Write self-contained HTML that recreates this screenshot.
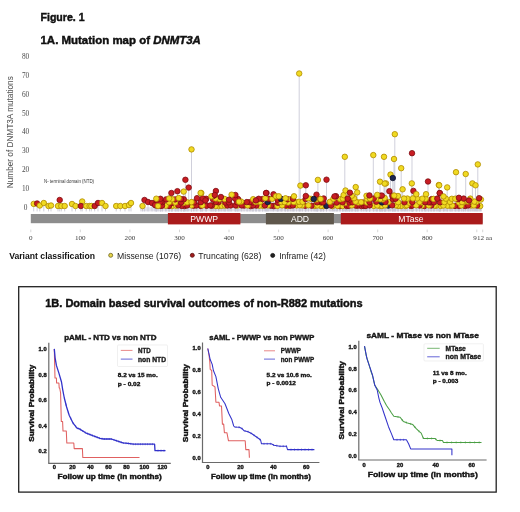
<!DOCTYPE html>
<html><head><meta charset="utf-8"><style>
html,body{margin:0;padding:0;background:#fff;}
svg{display:block;filter:blur(0.35px);}
</style></head><body>
<svg width="520" height="512" viewBox="0 0 520 512">
<defs><filter id="bl" x="-5%" y="-5%" width="110%" height="110%"><feGaussianBlur stdDeviation="0.3"/></filter></defs>
<rect width="520" height="512" fill="#fff"/>
<text x="40.5" y="21.3" font-family='"Liberation Sans", sans-serif' font-size="11.2" font-weight="bold" fill="#111" text-anchor="start" textLength="44" lengthAdjust="spacingAndGlyphs" stroke="#111" stroke-width="0.45">Figure. 1</text>
<text x="40.5" y="44.2" font-family='"Liberation Sans", sans-serif' font-size="11.2" font-weight="bold" fill="#111" stroke="#111" stroke-width="0.45" textLength="160.4" lengthAdjust="spacingAndGlyphs">1A. Mutation map of <tspan font-style="italic">DNMT3A</tspan></text>
<text x="25.6" y="209.8" font-family='"Liberation Serif", serif' font-size="7.3" font-weight="normal" fill="#4a4a4a" text-anchor="middle" >0</text>
<text x="25.6" y="190.95000000000002" font-family='"Liberation Serif", serif' font-size="7.3" font-weight="normal" fill="#4a4a4a" text-anchor="middle" >10</text>
<text x="25.6" y="172.10000000000002" font-family='"Liberation Serif", serif' font-size="7.3" font-weight="normal" fill="#4a4a4a" text-anchor="middle" >20</text>
<text x="25.6" y="153.25" font-family='"Liberation Serif", serif' font-size="7.3" font-weight="normal" fill="#4a4a4a" text-anchor="middle" >30</text>
<text x="25.6" y="134.4" font-family='"Liberation Serif", serif' font-size="7.3" font-weight="normal" fill="#4a4a4a" text-anchor="middle" >40</text>
<text x="25.6" y="115.55000000000001" font-family='"Liberation Serif", serif' font-size="7.3" font-weight="normal" fill="#4a4a4a" text-anchor="middle" >50</text>
<text x="25.6" y="96.70000000000002" font-family='"Liberation Serif", serif' font-size="7.3" font-weight="normal" fill="#4a4a4a" text-anchor="middle" >60</text>
<text x="25.6" y="77.85000000000002" font-family='"Liberation Serif", serif' font-size="7.3" font-weight="normal" fill="#4a4a4a" text-anchor="middle" >70</text>
<text x="25.6" y="59.0" font-family='"Liberation Serif", serif' font-size="7.3" font-weight="normal" fill="#4a4a4a" text-anchor="middle" >80</text>
<text transform="translate(13.0,188.2) rotate(-90)" font-family='"Liberation Sans", sans-serif' font-size="8.2" fill="#555" stroke="#555" stroke-width="0.05" textLength="112" lengthAdjust="spacingAndGlyphs">Number of DNMT3A mutations</text>
<text x="44.0" y="182.6" font-family='"Liberation Sans", sans-serif' font-size="4.9" font-weight="normal" fill="#333" text-anchor="start" textLength="50.0" lengthAdjust="spacingAndGlyphs" >N- terminal domain (NTD)</text>
<g filter="url(#bl)">
<rect x="140" y="207.2" width="342" height="4.2" fill="#e4e2ea"/>
<line x1="339.9" y1="206.1" x2="339.9" y2="211.4" stroke="#c8c8d4" stroke-width="0.85"/>
<line x1="480.2" y1="206.1" x2="480.2" y2="211.4" stroke="#c8c8d4" stroke-width="0.85"/>
<line x1="323.4" y1="206.1" x2="323.4" y2="211.4" stroke="#c8c8d4" stroke-width="0.85"/>
<line x1="250.8" y1="206.1" x2="250.8" y2="211.4" stroke="#c8c8d4" stroke-width="0.85"/>
<line x1="273.9" y1="206.1" x2="273.9" y2="211.4" stroke="#c8c8d4" stroke-width="0.85"/>
<line x1="332.6" y1="206.1" x2="332.6" y2="211.4" stroke="#c8c8d4" stroke-width="0.85"/>
<line x1="361.3" y1="206.1" x2="361.3" y2="211.4" stroke="#c8c8d4" stroke-width="0.85"/>
<line x1="218.6" y1="206.1" x2="218.6" y2="211.4" stroke="#c8c8d4" stroke-width="0.85"/>
<line x1="320.9" y1="206.0" x2="320.9" y2="211.4" stroke="#c8c8d4" stroke-width="0.85"/>
<line x1="424.4" y1="206.0" x2="424.4" y2="211.4" stroke="#c8c8d4" stroke-width="0.85"/>
<line x1="401.1" y1="206.0" x2="401.1" y2="211.4" stroke="#c8c8d4" stroke-width="0.85"/>
<line x1="184.7" y1="206.0" x2="184.7" y2="211.4" stroke="#c8c8d4" stroke-width="0.85"/>
<line x1="379.8" y1="206.0" x2="379.8" y2="211.4" stroke="#c8c8d4" stroke-width="0.85"/>
<line x1="411.0" y1="206.0" x2="411.0" y2="211.4" stroke="#c8c8d4" stroke-width="0.85"/>
<line x1="364.0" y1="206.0" x2="364.0" y2="211.4" stroke="#c8c8d4" stroke-width="0.85"/>
<line x1="342.7" y1="206.0" x2="342.7" y2="211.4" stroke="#c8c8d4" stroke-width="0.85"/>
<line x1="465.1" y1="206.0" x2="465.1" y2="211.4" stroke="#c8c8d4" stroke-width="0.85"/>
<line x1="172.1" y1="206.0" x2="172.1" y2="211.4" stroke="#c8c8d4" stroke-width="0.85"/>
<line x1="381.9" y1="206.0" x2="381.9" y2="211.4" stroke="#c8c8d4" stroke-width="0.85"/>
<line x1="346.8" y1="206.0" x2="346.8" y2="211.4" stroke="#c8c8d4" stroke-width="0.85"/>
<line x1="459.0" y1="206.0" x2="459.0" y2="211.4" stroke="#c8c8d4" stroke-width="0.85"/>
<line x1="455.0" y1="205.9" x2="455.0" y2="211.4" stroke="#c8c8d4" stroke-width="0.85"/>
<line x1="181.7" y1="205.9" x2="181.7" y2="211.4" stroke="#c8c8d4" stroke-width="0.85"/>
<line x1="200.7" y1="205.9" x2="200.7" y2="211.4" stroke="#c8c8d4" stroke-width="0.85"/>
<line x1="440.7" y1="205.9" x2="440.7" y2="211.4" stroke="#c8c8d4" stroke-width="0.85"/>
<line x1="215.6" y1="205.9" x2="215.6" y2="211.4" stroke="#c8c8d4" stroke-width="0.85"/>
<line x1="326.5" y1="205.9" x2="326.5" y2="211.4" stroke="#c8c8d4" stroke-width="0.85"/>
<line x1="169.0" y1="205.9" x2="169.0" y2="211.4" stroke="#c8c8d4" stroke-width="0.85"/>
<line x1="365.7" y1="205.9" x2="365.7" y2="211.4" stroke="#c8c8d4" stroke-width="0.85"/>
<line x1="314.8" y1="205.9" x2="314.8" y2="211.4" stroke="#c8c8d4" stroke-width="0.85"/>
<line x1="337.5" y1="205.9" x2="337.5" y2="211.4" stroke="#c8c8d4" stroke-width="0.85"/>
<line x1="287.4" y1="205.9" x2="287.4" y2="211.4" stroke="#c8c8d4" stroke-width="0.85"/>
<line x1="373.8" y1="205.9" x2="373.8" y2="211.4" stroke="#c8c8d4" stroke-width="0.85"/>
<line x1="398.1" y1="205.9" x2="398.1" y2="211.4" stroke="#c8c8d4" stroke-width="0.85"/>
<line x1="277.4" y1="205.9" x2="277.4" y2="211.4" stroke="#c8c8d4" stroke-width="0.85"/>
<line x1="405.5" y1="205.9" x2="405.5" y2="211.4" stroke="#c8c8d4" stroke-width="0.85"/>
<line x1="221.7" y1="205.8" x2="221.7" y2="211.4" stroke="#c8c8d4" stroke-width="0.85"/>
<line x1="206.6" y1="205.8" x2="206.6" y2="211.4" stroke="#c8c8d4" stroke-width="0.85"/>
<line x1="305.2" y1="205.8" x2="305.2" y2="211.4" stroke="#c8c8d4" stroke-width="0.85"/>
<line x1="450.3" y1="205.8" x2="450.3" y2="211.4" stroke="#c8c8d4" stroke-width="0.85"/>
<line x1="262.7" y1="205.8" x2="262.7" y2="211.4" stroke="#c8c8d4" stroke-width="0.85"/>
<line x1="160.6" y1="205.8" x2="160.6" y2="211.4" stroke="#c8c8d4" stroke-width="0.85"/>
<line x1="357.4" y1="205.8" x2="357.4" y2="211.4" stroke="#c8c8d4" stroke-width="0.85"/>
<line x1="348.8" y1="205.8" x2="348.8" y2="211.4" stroke="#c8c8d4" stroke-width="0.85"/>
<line x1="165.7" y1="205.8" x2="165.7" y2="211.4" stroke="#c8c8d4" stroke-width="0.85"/>
<line x1="290.2" y1="205.7" x2="290.2" y2="211.4" stroke="#c8c8d4" stroke-width="0.85"/>
<line x1="176.2" y1="205.7" x2="176.2" y2="211.4" stroke="#c8c8d4" stroke-width="0.85"/>
<line x1="162.0" y1="205.7" x2="162.0" y2="211.4" stroke="#c8c8d4" stroke-width="0.85"/>
<line x1="259.3" y1="205.7" x2="259.3" y2="211.4" stroke="#c8c8d4" stroke-width="0.85"/>
<line x1="211.8" y1="205.7" x2="211.8" y2="211.4" stroke="#c8c8d4" stroke-width="0.85"/>
<line x1="193.5" y1="205.7" x2="193.5" y2="211.4" stroke="#c8c8d4" stroke-width="0.85"/>
<line x1="311.7" y1="205.7" x2="311.7" y2="211.4" stroke="#c8c8d4" stroke-width="0.85"/>
<line x1="447.4" y1="205.7" x2="447.4" y2="211.4" stroke="#c8c8d4" stroke-width="0.85"/>
<line x1="270.9" y1="205.7" x2="270.9" y2="211.4" stroke="#c8c8d4" stroke-width="0.85"/>
<line x1="436.2" y1="205.7" x2="436.2" y2="211.4" stroke="#c8c8d4" stroke-width="0.85"/>
<line x1="244.1" y1="205.6" x2="244.1" y2="211.4" stroke="#c8c8d4" stroke-width="0.85"/>
<line x1="388.2" y1="205.6" x2="388.2" y2="211.4" stroke="#c8c8d4" stroke-width="0.85"/>
<line x1="256.3" y1="205.6" x2="256.3" y2="211.4" stroke="#c8c8d4" stroke-width="0.85"/>
<line x1="434.5" y1="205.6" x2="434.5" y2="211.4" stroke="#c8c8d4" stroke-width="0.85"/>
<line x1="477.1" y1="205.6" x2="477.1" y2="211.4" stroke="#c8c8d4" stroke-width="0.85"/>
<line x1="224.9" y1="205.6" x2="224.9" y2="211.4" stroke="#c8c8d4" stroke-width="0.85"/>
<line x1="156.4" y1="205.6" x2="156.4" y2="211.4" stroke="#c8c8d4" stroke-width="0.85"/>
<line x1="431.3" y1="205.5" x2="431.3" y2="211.4" stroke="#c8c8d4" stroke-width="0.85"/>
<line x1="285.6" y1="205.5" x2="285.6" y2="211.4" stroke="#c8c8d4" stroke-width="0.85"/>
<line x1="422.0" y1="205.5" x2="422.0" y2="211.4" stroke="#c8c8d4" stroke-width="0.85"/>
<line x1="461.3" y1="205.5" x2="461.3" y2="211.4" stroke="#c8c8d4" stroke-width="0.85"/>
<line x1="377.3" y1="205.5" x2="377.3" y2="211.4" stroke="#c8c8d4" stroke-width="0.85"/>
<line x1="452.2" y1="205.5" x2="452.2" y2="211.4" stroke="#c8c8d4" stroke-width="0.85"/>
<line x1="331.1" y1="205.5" x2="331.1" y2="211.4" stroke="#c8c8d4" stroke-width="0.85"/>
<line x1="227.4" y1="205.5" x2="227.4" y2="211.4" stroke="#c8c8d4" stroke-width="0.85"/>
<line x1="443.4" y1="205.5" x2="443.4" y2="211.4" stroke="#c8c8d4" stroke-width="0.85"/>
<line x1="317.4" y1="205.5" x2="317.4" y2="211.4" stroke="#c8c8d4" stroke-width="0.85"/>
<line x1="196.2" y1="205.5" x2="196.2" y2="211.4" stroke="#c8c8d4" stroke-width="0.85"/>
<line x1="419.5" y1="205.5" x2="419.5" y2="211.4" stroke="#c8c8d4" stroke-width="0.85"/>
<line x1="237.3" y1="205.5" x2="237.3" y2="211.4" stroke="#c8c8d4" stroke-width="0.85"/>
<line x1="253.1" y1="205.5" x2="253.1" y2="211.4" stroke="#c8c8d4" stroke-width="0.85"/>
<line x1="471.1" y1="205.5" x2="471.1" y2="211.4" stroke="#c8c8d4" stroke-width="0.85"/>
<line x1="355.4" y1="205.5" x2="355.4" y2="211.4" stroke="#c8c8d4" stroke-width="0.85"/>
<line x1="369.6" y1="205.4" x2="369.6" y2="211.4" stroke="#c8c8d4" stroke-width="0.85"/>
<line x1="191.4" y1="205.4" x2="191.4" y2="211.4" stroke="#c8c8d4" stroke-width="0.85"/>
<line x1="187.1" y1="205.4" x2="187.1" y2="211.4" stroke="#c8c8d4" stroke-width="0.85"/>
<line x1="428.8" y1="205.4" x2="428.8" y2="211.4" stroke="#c8c8d4" stroke-width="0.85"/>
<line x1="302.1" y1="205.4" x2="302.1" y2="211.4" stroke="#c8c8d4" stroke-width="0.85"/>
<line x1="468.1" y1="205.4" x2="468.1" y2="211.4" stroke="#c8c8d4" stroke-width="0.85"/>
<line x1="473.8" y1="205.4" x2="473.8" y2="211.4" stroke="#c8c8d4" stroke-width="0.85"/>
<line x1="210.3" y1="205.4" x2="210.3" y2="211.4" stroke="#c8c8d4" stroke-width="0.85"/>
<line x1="202.4" y1="205.4" x2="202.4" y2="211.4" stroke="#c8c8d4" stroke-width="0.85"/>
<line x1="296.7" y1="205.4" x2="296.7" y2="211.4" stroke="#c8c8d4" stroke-width="0.85"/>
<line x1="282.1" y1="205.4" x2="282.1" y2="211.4" stroke="#c8c8d4" stroke-width="0.85"/>
<line x1="385.0" y1="205.4" x2="385.0" y2="211.4" stroke="#c8c8d4" stroke-width="0.85"/>
<line x1="241.7" y1="205.4" x2="241.7" y2="211.4" stroke="#c8c8d4" stroke-width="0.85"/>
<line x1="351.8" y1="205.4" x2="351.8" y2="211.4" stroke="#c8c8d4" stroke-width="0.85"/>
<line x1="412.5" y1="205.4" x2="412.5" y2="211.4" stroke="#c8c8d4" stroke-width="0.85"/>
<line x1="292.9" y1="205.4" x2="292.9" y2="211.4" stroke="#c8c8d4" stroke-width="0.85"/>
<line x1="230.7" y1="205.4" x2="230.7" y2="211.4" stroke="#c8c8d4" stroke-width="0.85"/>
<line x1="247.7" y1="205.4" x2="247.7" y2="211.4" stroke="#c8c8d4" stroke-width="0.85"/>
<line x1="267.9" y1="205.4" x2="267.9" y2="211.4" stroke="#c8c8d4" stroke-width="0.85"/>
<line x1="264.9" y1="205.4" x2="264.9" y2="211.4" stroke="#c8c8d4" stroke-width="0.85"/>
<line x1="235.6" y1="205.4" x2="235.6" y2="211.4" stroke="#c8c8d4" stroke-width="0.85"/>
<line x1="395.8" y1="205.3" x2="395.8" y2="211.4" stroke="#c8c8d4" stroke-width="0.85"/>
<line x1="392.2" y1="205.3" x2="392.2" y2="211.4" stroke="#c8c8d4" stroke-width="0.85"/>
<line x1="299.7" y1="205.3" x2="299.7" y2="211.4" stroke="#c8c8d4" stroke-width="0.85"/>
<line x1="416.2" y1="205.3" x2="416.2" y2="211.4" stroke="#c8c8d4" stroke-width="0.85"/>
<line x1="406.8" y1="205.3" x2="406.8" y2="211.4" stroke="#c8c8d4" stroke-width="0.85"/>
<line x1="308.4" y1="205.3" x2="308.4" y2="211.4" stroke="#c8c8d4" stroke-width="0.85"/>
<line x1="178.3" y1="205.3" x2="178.3" y2="211.4" stroke="#c8c8d4" stroke-width="0.85"/>
<line x1="171.9" y1="202.9" x2="171.9" y2="211.4" stroke="#c8c8d4" stroke-width="0.85"/>
<line x1="277.9" y1="202.8" x2="277.9" y2="211.4" stroke="#c8c8d4" stroke-width="0.85"/>
<line x1="409.4" y1="202.8" x2="409.4" y2="211.4" stroke="#c8c8d4" stroke-width="0.85"/>
<line x1="345.6" y1="202.7" x2="345.6" y2="211.4" stroke="#c8c8d4" stroke-width="0.85"/>
<line x1="183.8" y1="202.7" x2="183.8" y2="211.4" stroke="#c8c8d4" stroke-width="0.85"/>
<line x1="288.2" y1="202.6" x2="288.2" y2="211.4" stroke="#c8c8d4" stroke-width="0.85"/>
<line x1="363.2" y1="202.6" x2="363.2" y2="211.4" stroke="#c8c8d4" stroke-width="0.85"/>
<line x1="349.5" y1="202.6" x2="349.5" y2="211.4" stroke="#c8c8d4" stroke-width="0.85"/>
<line x1="336.6" y1="202.6" x2="336.6" y2="211.4" stroke="#c8c8d4" stroke-width="0.85"/>
<line x1="225.4" y1="202.6" x2="225.4" y2="211.4" stroke="#c8c8d4" stroke-width="0.85"/>
<line x1="358.4" y1="202.5" x2="358.4" y2="211.4" stroke="#c8c8d4" stroke-width="0.85"/>
<line x1="175.3" y1="202.5" x2="175.3" y2="211.4" stroke="#c8c8d4" stroke-width="0.85"/>
<line x1="194.1" y1="202.5" x2="194.1" y2="211.4" stroke="#c8c8d4" stroke-width="0.85"/>
<line x1="459.0" y1="202.5" x2="459.0" y2="211.4" stroke="#c8c8d4" stroke-width="0.85"/>
<line x1="382.0" y1="202.4" x2="382.0" y2="211.4" stroke="#c8c8d4" stroke-width="0.85"/>
<line x1="421.8" y1="202.4" x2="421.8" y2="211.4" stroke="#c8c8d4" stroke-width="0.85"/>
<line x1="430.6" y1="202.4" x2="430.6" y2="211.4" stroke="#c8c8d4" stroke-width="0.85"/>
<line x1="228.9" y1="202.4" x2="228.9" y2="211.4" stroke="#c8c8d4" stroke-width="0.85"/>
<line x1="252.3" y1="202.4" x2="252.3" y2="211.4" stroke="#c8c8d4" stroke-width="0.85"/>
<line x1="321.5" y1="202.4" x2="321.5" y2="211.4" stroke="#c8c8d4" stroke-width="0.85"/>
<line x1="181.1" y1="202.4" x2="181.1" y2="211.4" stroke="#c8c8d4" stroke-width="0.85"/>
<line x1="366.8" y1="202.4" x2="366.8" y2="211.4" stroke="#c8c8d4" stroke-width="0.85"/>
<line x1="317.1" y1="202.3" x2="317.1" y2="211.4" stroke="#c8c8d4" stroke-width="0.85"/>
<line x1="404.4" y1="202.3" x2="404.4" y2="211.4" stroke="#c8c8d4" stroke-width="0.85"/>
<line x1="440.0" y1="202.3" x2="440.0" y2="211.4" stroke="#c8c8d4" stroke-width="0.85"/>
<line x1="323.1" y1="202.3" x2="323.1" y2="211.4" stroke="#c8c8d4" stroke-width="0.85"/>
<line x1="342.6" y1="202.3" x2="342.6" y2="211.4" stroke="#c8c8d4" stroke-width="0.85"/>
<line x1="352.4" y1="202.3" x2="352.4" y2="211.4" stroke="#c8c8d4" stroke-width="0.85"/>
<line x1="218.4" y1="202.3" x2="218.4" y2="211.4" stroke="#c8c8d4" stroke-width="0.85"/>
<line x1="187.1" y1="202.3" x2="187.1" y2="211.4" stroke="#c8c8d4" stroke-width="0.85"/>
<line x1="169.1" y1="202.3" x2="169.1" y2="211.4" stroke="#c8c8d4" stroke-width="0.85"/>
<line x1="428.6" y1="202.3" x2="428.6" y2="211.4" stroke="#c8c8d4" stroke-width="0.85"/>
<line x1="361.1" y1="202.2" x2="361.1" y2="211.4" stroke="#c8c8d4" stroke-width="0.85"/>
<line x1="433.9" y1="202.2" x2="433.9" y2="211.4" stroke="#c8c8d4" stroke-width="0.85"/>
<line x1="200.8" y1="202.2" x2="200.8" y2="211.4" stroke="#c8c8d4" stroke-width="0.85"/>
<line x1="463.5" y1="202.2" x2="463.5" y2="211.4" stroke="#c8c8d4" stroke-width="0.85"/>
<line x1="296.3" y1="202.2" x2="296.3" y2="211.4" stroke="#c8c8d4" stroke-width="0.85"/>
<line x1="237.0" y1="202.2" x2="237.0" y2="211.4" stroke="#c8c8d4" stroke-width="0.85"/>
<line x1="249.7" y1="202.2" x2="249.7" y2="211.4" stroke="#c8c8d4" stroke-width="0.85"/>
<line x1="425.0" y1="202.2" x2="425.0" y2="211.4" stroke="#c8c8d4" stroke-width="0.85"/>
<line x1="398.1" y1="202.2" x2="398.1" y2="211.4" stroke="#c8c8d4" stroke-width="0.85"/>
<line x1="293.8" y1="202.1" x2="293.8" y2="211.4" stroke="#c8c8d4" stroke-width="0.85"/>
<line x1="462.0" y1="202.1" x2="462.0" y2="211.4" stroke="#c8c8d4" stroke-width="0.85"/>
<line x1="191.5" y1="202.1" x2="191.5" y2="211.4" stroke="#c8c8d4" stroke-width="0.85"/>
<line x1="281.2" y1="202.1" x2="281.2" y2="211.4" stroke="#c8c8d4" stroke-width="0.85"/>
<line x1="444.4" y1="202.1" x2="444.4" y2="211.4" stroke="#c8c8d4" stroke-width="0.85"/>
<line x1="162.5" y1="202.1" x2="162.5" y2="211.4" stroke="#c8c8d4" stroke-width="0.85"/>
<line x1="246.8" y1="202.1" x2="246.8" y2="211.4" stroke="#c8c8d4" stroke-width="0.85"/>
<line x1="215.8" y1="202.1" x2="215.8" y2="211.4" stroke="#c8c8d4" stroke-width="0.85"/>
<line x1="412.3" y1="202.1" x2="412.3" y2="211.4" stroke="#c8c8d4" stroke-width="0.85"/>
<line x1="267.7" y1="202.1" x2="267.7" y2="211.4" stroke="#c8c8d4" stroke-width="0.85"/>
<line x1="156.2" y1="202.1" x2="156.2" y2="211.4" stroke="#c8c8d4" stroke-width="0.85"/>
<line x1="284.6" y1="202.1" x2="284.6" y2="211.4" stroke="#c8c8d4" stroke-width="0.85"/>
<line x1="369.5" y1="202.1" x2="369.5" y2="211.4" stroke="#c8c8d4" stroke-width="0.85"/>
<line x1="388.4" y1="202.0" x2="388.4" y2="211.4" stroke="#c8c8d4" stroke-width="0.85"/>
<line x1="476.4" y1="202.0" x2="476.4" y2="211.4" stroke="#c8c8d4" stroke-width="0.85"/>
<line x1="419.5" y1="202.0" x2="419.5" y2="211.4" stroke="#c8c8d4" stroke-width="0.85"/>
<line x1="260.0" y1="202.0" x2="260.0" y2="211.4" stroke="#c8c8d4" stroke-width="0.85"/>
<line x1="255.8" y1="202.0" x2="255.8" y2="211.4" stroke="#c8c8d4" stroke-width="0.85"/>
<line x1="450.0" y1="202.0" x2="450.0" y2="211.4" stroke="#c8c8d4" stroke-width="0.85"/>
<line x1="160.5" y1="201.9" x2="160.5" y2="211.4" stroke="#c8c8d4" stroke-width="0.85"/>
<line x1="329.8" y1="201.9" x2="329.8" y2="211.4" stroke="#c8c8d4" stroke-width="0.85"/>
<line x1="385.5" y1="201.9" x2="385.5" y2="211.4" stroke="#c8c8d4" stroke-width="0.85"/>
<line x1="299.1" y1="201.8" x2="299.1" y2="211.4" stroke="#c8c8d4" stroke-width="0.85"/>
<line x1="302.5" y1="201.8" x2="302.5" y2="211.4" stroke="#c8c8d4" stroke-width="0.85"/>
<line x1="376.3" y1="201.7" x2="376.3" y2="211.4" stroke="#c8c8d4" stroke-width="0.85"/>
<line x1="355.6" y1="201.6" x2="355.6" y2="211.4" stroke="#c8c8d4" stroke-width="0.85"/>
<line x1="474.4" y1="201.6" x2="474.4" y2="211.4" stroke="#c8c8d4" stroke-width="0.85"/>
<line x1="241.1" y1="201.6" x2="241.1" y2="211.4" stroke="#c8c8d4" stroke-width="0.85"/>
<line x1="467.8" y1="201.6" x2="467.8" y2="211.4" stroke="#c8c8d4" stroke-width="0.85"/>
<line x1="277.6" y1="199.7" x2="277.6" y2="211.4" stroke="#c8c8d4" stroke-width="0.85"/>
<line x1="349.7" y1="199.6" x2="349.7" y2="211.4" stroke="#c8c8d4" stroke-width="0.85"/>
<line x1="213.1" y1="199.6" x2="213.1" y2="211.4" stroke="#c8c8d4" stroke-width="0.85"/>
<line x1="480.9" y1="199.5" x2="480.9" y2="211.4" stroke="#c8c8d4" stroke-width="0.85"/>
<line x1="315.3" y1="199.4" x2="315.3" y2="211.4" stroke="#c8c8d4" stroke-width="0.85"/>
<line x1="382.5" y1="199.4" x2="382.5" y2="211.4" stroke="#c8c8d4" stroke-width="0.85"/>
<line x1="166.1" y1="199.4" x2="166.1" y2="211.4" stroke="#c8c8d4" stroke-width="0.85"/>
<line x1="175.1" y1="199.4" x2="175.1" y2="211.4" stroke="#c8c8d4" stroke-width="0.85"/>
<line x1="380.2" y1="199.3" x2="380.2" y2="211.4" stroke="#c8c8d4" stroke-width="0.85"/>
<line x1="287.9" y1="199.3" x2="287.9" y2="211.4" stroke="#c8c8d4" stroke-width="0.85"/>
<line x1="317.4" y1="199.3" x2="317.4" y2="211.4" stroke="#c8c8d4" stroke-width="0.85"/>
<line x1="223.3" y1="199.3" x2="223.3" y2="211.4" stroke="#c8c8d4" stroke-width="0.85"/>
<line x1="393.0" y1="199.3" x2="393.0" y2="211.4" stroke="#c8c8d4" stroke-width="0.85"/>
<line x1="183.8" y1="199.3" x2="183.8" y2="211.4" stroke="#c8c8d4" stroke-width="0.85"/>
<line x1="172.0" y1="199.2" x2="172.0" y2="211.4" stroke="#c8c8d4" stroke-width="0.85"/>
<line x1="340.2" y1="199.2" x2="340.2" y2="211.4" stroke="#c8c8d4" stroke-width="0.85"/>
<line x1="458.0" y1="199.2" x2="458.0" y2="211.4" stroke="#c8c8d4" stroke-width="0.85"/>
<line x1="253.2" y1="199.2" x2="253.2" y2="211.4" stroke="#c8c8d4" stroke-width="0.85"/>
<line x1="305.6" y1="199.1" x2="305.6" y2="211.4" stroke="#c8c8d4" stroke-width="0.85"/>
<line x1="262.5" y1="199.1" x2="262.5" y2="211.4" stroke="#c8c8d4" stroke-width="0.85"/>
<line x1="291.1" y1="199.1" x2="291.1" y2="211.4" stroke="#c8c8d4" stroke-width="0.85"/>
<line x1="431.8" y1="199.1" x2="431.8" y2="211.4" stroke="#c8c8d4" stroke-width="0.85"/>
<line x1="219.4" y1="199.1" x2="219.4" y2="211.4" stroke="#c8c8d4" stroke-width="0.85"/>
<line x1="320.3" y1="199.1" x2="320.3" y2="211.4" stroke="#c8c8d4" stroke-width="0.85"/>
<line x1="181.0" y1="199.1" x2="181.0" y2="211.4" stroke="#c8c8d4" stroke-width="0.85"/>
<line x1="224.7" y1="199.0" x2="224.7" y2="211.4" stroke="#c8c8d4" stroke-width="0.85"/>
<line x1="238.0" y1="199.0" x2="238.0" y2="211.4" stroke="#c8c8d4" stroke-width="0.85"/>
<line x1="311.1" y1="198.9" x2="311.1" y2="211.4" stroke="#c8c8d4" stroke-width="0.85"/>
<line x1="433.5" y1="198.9" x2="433.5" y2="211.4" stroke="#c8c8d4" stroke-width="0.85"/>
<line x1="346.8" y1="198.9" x2="346.8" y2="211.4" stroke="#c8c8d4" stroke-width="0.85"/>
<line x1="268.9" y1="198.8" x2="268.9" y2="211.4" stroke="#c8c8d4" stroke-width="0.85"/>
<line x1="333.4" y1="198.8" x2="333.4" y2="211.4" stroke="#c8c8d4" stroke-width="0.85"/>
<line x1="206.2" y1="198.8" x2="206.2" y2="211.4" stroke="#c8c8d4" stroke-width="0.85"/>
<line x1="366.9" y1="198.8" x2="366.9" y2="211.4" stroke="#c8c8d4" stroke-width="0.85"/>
<line x1="451.8" y1="198.8" x2="451.8" y2="211.4" stroke="#c8c8d4" stroke-width="0.85"/>
<line x1="160.4" y1="198.8" x2="160.4" y2="211.4" stroke="#c8c8d4" stroke-width="0.85"/>
<line x1="281.0" y1="198.8" x2="281.0" y2="211.4" stroke="#c8c8d4" stroke-width="0.85"/>
<line x1="425.7" y1="198.8" x2="425.7" y2="211.4" stroke="#c8c8d4" stroke-width="0.85"/>
<line x1="272.2" y1="198.8" x2="272.2" y2="211.4" stroke="#c8c8d4" stroke-width="0.85"/>
<line x1="258.7" y1="198.8" x2="258.7" y2="211.4" stroke="#c8c8d4" stroke-width="0.85"/>
<line x1="292.9" y1="198.8" x2="292.9" y2="211.4" stroke="#c8c8d4" stroke-width="0.85"/>
<line x1="422.3" y1="198.7" x2="422.3" y2="211.4" stroke="#c8c8d4" stroke-width="0.85"/>
<line x1="445.9" y1="198.7" x2="445.9" y2="211.4" stroke="#c8c8d4" stroke-width="0.85"/>
<line x1="156.3" y1="198.7" x2="156.3" y2="211.4" stroke="#c8c8d4" stroke-width="0.85"/>
<line x1="455.3" y1="198.7" x2="455.3" y2="211.4" stroke="#c8c8d4" stroke-width="0.85"/>
<line x1="395.5" y1="198.7" x2="395.5" y2="211.4" stroke="#c8c8d4" stroke-width="0.85"/>
<line x1="376.1" y1="198.7" x2="376.1" y2="211.4" stroke="#c8c8d4" stroke-width="0.85"/>
<line x1="407.4" y1="198.6" x2="407.4" y2="211.4" stroke="#c8c8d4" stroke-width="0.85"/>
<line x1="463.7" y1="198.6" x2="463.7" y2="211.4" stroke="#c8c8d4" stroke-width="0.85"/>
<line x1="373.7" y1="198.6" x2="373.7" y2="211.4" stroke="#c8c8d4" stroke-width="0.85"/>
<line x1="437.3" y1="198.6" x2="437.3" y2="211.4" stroke="#c8c8d4" stroke-width="0.85"/>
<line x1="235.0" y1="198.6" x2="235.0" y2="211.4" stroke="#c8c8d4" stroke-width="0.85"/>
<line x1="470.3" y1="198.6" x2="470.3" y2="211.4" stroke="#c8c8d4" stroke-width="0.85"/>
<line x1="417.0" y1="198.5" x2="417.0" y2="211.4" stroke="#c8c8d4" stroke-width="0.85"/>
<line x1="404.0" y1="198.5" x2="404.0" y2="211.4" stroke="#c8c8d4" stroke-width="0.85"/>
<line x1="342.8" y1="198.5" x2="342.8" y2="211.4" stroke="#c8c8d4" stroke-width="0.85"/>
<line x1="323.7" y1="198.5" x2="323.7" y2="211.4" stroke="#c8c8d4" stroke-width="0.85"/>
<line x1="370.0" y1="198.5" x2="370.0" y2="211.4" stroke="#c8c8d4" stroke-width="0.85"/>
<line x1="215.6" y1="198.5" x2="215.6" y2="211.4" stroke="#c8c8d4" stroke-width="0.85"/>
<line x1="412.9" y1="198.4" x2="412.9" y2="211.4" stroke="#c8c8d4" stroke-width="0.85"/>
<line x1="169.2" y1="198.4" x2="169.2" y2="211.4" stroke="#c8c8d4" stroke-width="0.85"/>
<line x1="202.7" y1="198.4" x2="202.7" y2="211.4" stroke="#c8c8d4" stroke-width="0.85"/>
<line x1="285.5" y1="198.3" x2="285.5" y2="211.4" stroke="#c8c8d4" stroke-width="0.85"/>
<line x1="308.3" y1="198.3" x2="308.3" y2="211.4" stroke="#c8c8d4" stroke-width="0.85"/>
<line x1="265.3" y1="198.2" x2="265.3" y2="211.4" stroke="#c8c8d4" stroke-width="0.85"/>
<line x1="354.1" y1="198.2" x2="354.1" y2="211.4" stroke="#c8c8d4" stroke-width="0.85"/>
<line x1="197.0" y1="198.2" x2="197.0" y2="211.4" stroke="#c8c8d4" stroke-width="0.85"/>
<line x1="384.7" y1="198.0" x2="384.7" y2="211.4" stroke="#c8c8d4" stroke-width="0.85"/>
<line x1="178.7" y1="198.0" x2="178.7" y2="211.4" stroke="#c8c8d4" stroke-width="0.85"/>
<line x1="336.0" y1="196.2" x2="336.0" y2="211.4" stroke="#c8c8d4" stroke-width="0.85"/>
<line x1="213.2" y1="196.1" x2="213.2" y2="211.4" stroke="#c8c8d4" stroke-width="0.85"/>
<line x1="398.0" y1="196.0" x2="398.0" y2="211.4" stroke="#c8c8d4" stroke-width="0.85"/>
<line x1="366.5" y1="195.8" x2="366.5" y2="211.4" stroke="#c8c8d4" stroke-width="0.85"/>
<line x1="380.2" y1="195.8" x2="380.2" y2="211.4" stroke="#c8c8d4" stroke-width="0.85"/>
<line x1="351.8" y1="195.7" x2="351.8" y2="211.4" stroke="#c8c8d4" stroke-width="0.85"/>
<line x1="392.4" y1="195.7" x2="392.4" y2="211.4" stroke="#c8c8d4" stroke-width="0.85"/>
<line x1="381.8" y1="195.6" x2="381.8" y2="211.4" stroke="#c8c8d4" stroke-width="0.85"/>
<line x1="394.2" y1="195.6" x2="394.2" y2="211.4" stroke="#c8c8d4" stroke-width="0.85"/>
<line x1="369.4" y1="195.4" x2="369.4" y2="211.4" stroke="#c8c8d4" stroke-width="0.85"/>
<line x1="343.6" y1="195.1" x2="343.6" y2="211.4" stroke="#c8c8d4" stroke-width="0.85"/>
<line x1="377.2" y1="194.9" x2="377.2" y2="211.4" stroke="#c8c8d4" stroke-width="0.85"/>
<line x1="33.7" y1="203.9" x2="33.7" y2="211.4" stroke="#c8c8d4" stroke-width="0.85"/>
<line x1="37.1" y1="203.5" x2="37.1" y2="211.4" stroke="#c8c8d4" stroke-width="0.85"/>
<line x1="39.8" y1="205.5" x2="39.8" y2="211.4" stroke="#c8c8d4" stroke-width="0.85"/>
<line x1="43.8" y1="203.0" x2="43.8" y2="211.4" stroke="#c8c8d4" stroke-width="0.85"/>
<line x1="48.5" y1="206.0" x2="48.5" y2="211.4" stroke="#c8c8d4" stroke-width="0.85"/>
<line x1="51.0" y1="205.5" x2="51.0" y2="211.4" stroke="#c8c8d4" stroke-width="0.85"/>
<line x1="59.7" y1="200.0" x2="59.7" y2="211.4" stroke="#c8c8d4" stroke-width="0.85"/>
<line x1="58.0" y1="206.0" x2="58.0" y2="211.4" stroke="#c8c8d4" stroke-width="0.85"/>
<line x1="61.3" y1="206.0" x2="61.3" y2="211.4" stroke="#c8c8d4" stroke-width="0.85"/>
<line x1="64.7" y1="206.0" x2="64.7" y2="211.4" stroke="#c8c8d4" stroke-width="0.85"/>
<line x1="72.0" y1="204.0" x2="72.0" y2="211.4" stroke="#c8c8d4" stroke-width="0.85"/>
<line x1="75.5" y1="206.0" x2="75.5" y2="211.4" stroke="#c8c8d4" stroke-width="0.85"/>
<line x1="82.2" y1="201.5" x2="82.2" y2="211.4" stroke="#c8c8d4" stroke-width="0.85"/>
<line x1="80.9" y1="206.0" x2="80.9" y2="211.4" stroke="#c8c8d4" stroke-width="0.85"/>
<line x1="86.2" y1="206.0" x2="86.2" y2="211.4" stroke="#c8c8d4" stroke-width="0.85"/>
<line x1="89.6" y1="206.0" x2="89.6" y2="211.4" stroke="#c8c8d4" stroke-width="0.85"/>
<line x1="91.3" y1="206.0" x2="91.3" y2="211.4" stroke="#c8c8d4" stroke-width="0.85"/>
<line x1="94.7" y1="206.0" x2="94.7" y2="211.4" stroke="#c8c8d4" stroke-width="0.85"/>
<line x1="98.0" y1="203.0" x2="98.0" y2="211.4" stroke="#c8c8d4" stroke-width="0.85"/>
<line x1="102.0" y1="203.0" x2="102.0" y2="211.4" stroke="#c8c8d4" stroke-width="0.85"/>
<line x1="105.5" y1="206.0" x2="105.5" y2="211.4" stroke="#c8c8d4" stroke-width="0.85"/>
<line x1="116.2" y1="206.0" x2="116.2" y2="211.4" stroke="#c8c8d4" stroke-width="0.85"/>
<line x1="120.3" y1="206.0" x2="120.3" y2="211.4" stroke="#c8c8d4" stroke-width="0.85"/>
<line x1="125.0" y1="206.0" x2="125.0" y2="211.4" stroke="#c8c8d4" stroke-width="0.85"/>
<line x1="129.0" y1="205.0" x2="129.0" y2="211.4" stroke="#c8c8d4" stroke-width="0.85"/>
<line x1="131.0" y1="203.0" x2="131.0" y2="211.4" stroke="#c8c8d4" stroke-width="0.85"/>
<line x1="142.5" y1="206.0" x2="142.5" y2="211.4" stroke="#c8c8d4" stroke-width="0.85"/>
<line x1="144.5" y1="200.0" x2="144.5" y2="211.4" stroke="#c8c8d4" stroke-width="0.85"/>
<line x1="148.0" y1="202.0" x2="148.0" y2="211.4" stroke="#c8c8d4" stroke-width="0.85"/>
<line x1="152.0" y1="203.0" x2="152.0" y2="211.4" stroke="#c8c8d4" stroke-width="0.85"/>
<line x1="155.0" y1="205.0" x2="155.0" y2="211.4" stroke="#c8c8d4" stroke-width="0.85"/>
<line x1="158.0" y1="206.0" x2="158.0" y2="211.4" stroke="#c8c8d4" stroke-width="0.85"/>
<line x1="191.5" y1="149.4" x2="191.5" y2="211.4" stroke="#c8c8d4" stroke-width="0.85"/>
<line x1="299.2" y1="73.5" x2="299.2" y2="211.4" stroke="#c8c8d4" stroke-width="0.85"/>
<line x1="185.4" y1="179.8" x2="185.4" y2="211.4" stroke="#c8c8d4" stroke-width="0.85"/>
<line x1="188.7" y1="187.6" x2="188.7" y2="211.4" stroke="#c8c8d4" stroke-width="0.85"/>
<line x1="300.4" y1="185.6" x2="300.4" y2="211.4" stroke="#c8c8d4" stroke-width="0.85"/>
<line x1="305.8" y1="185.3" x2="305.8" y2="211.4" stroke="#c8c8d4" stroke-width="0.85"/>
<line x1="317.9" y1="179.9" x2="317.9" y2="211.4" stroke="#c8c8d4" stroke-width="0.85"/>
<line x1="326.5" y1="179.7" x2="326.5" y2="211.4" stroke="#c8c8d4" stroke-width="0.85"/>
<line x1="344.8" y1="156.8" x2="344.8" y2="211.4" stroke="#c8c8d4" stroke-width="0.85"/>
<line x1="373.3" y1="155.1" x2="373.3" y2="211.4" stroke="#c8c8d4" stroke-width="0.85"/>
<line x1="384.0" y1="156.8" x2="384.0" y2="211.4" stroke="#c8c8d4" stroke-width="0.85"/>
<line x1="394.0" y1="159.0" x2="394.0" y2="211.4" stroke="#c8c8d4" stroke-width="0.85"/>
<line x1="394.8" y1="134.2" x2="394.8" y2="211.4" stroke="#c8c8d4" stroke-width="0.85"/>
<line x1="412.0" y1="153.2" x2="412.0" y2="211.4" stroke="#c8c8d4" stroke-width="0.85"/>
<line x1="401.2" y1="168.2" x2="401.2" y2="211.4" stroke="#c8c8d4" stroke-width="0.85"/>
<line x1="390.5" y1="174.6" x2="390.5" y2="211.4" stroke="#c8c8d4" stroke-width="0.85"/>
<line x1="392.8" y1="178.0" x2="392.8" y2="211.4" stroke="#c8c8d4" stroke-width="0.85"/>
<line x1="386.0" y1="183.4" x2="386.0" y2="211.4" stroke="#c8c8d4" stroke-width="0.85"/>
<line x1="380.0" y1="181.7" x2="380.0" y2="211.4" stroke="#c8c8d4" stroke-width="0.85"/>
<line x1="384.7" y1="183.6" x2="384.7" y2="211.4" stroke="#c8c8d4" stroke-width="0.85"/>
<line x1="411.8" y1="183.4" x2="411.8" y2="211.4" stroke="#c8c8d4" stroke-width="0.85"/>
<line x1="428.0" y1="181.5" x2="428.0" y2="211.4" stroke="#c8c8d4" stroke-width="0.85"/>
<line x1="438.8" y1="185.0" x2="438.8" y2="211.4" stroke="#c8c8d4" stroke-width="0.85"/>
<line x1="447.2" y1="187.4" x2="447.2" y2="211.4" stroke="#c8c8d4" stroke-width="0.85"/>
<line x1="477.8" y1="164.4" x2="477.8" y2="211.4" stroke="#c8c8d4" stroke-width="0.85"/>
<line x1="456.0" y1="172.2" x2="456.0" y2="211.4" stroke="#c8c8d4" stroke-width="0.85"/>
<line x1="465.7" y1="174.0" x2="465.7" y2="211.4" stroke="#c8c8d4" stroke-width="0.85"/>
<line x1="439.2" y1="185.3" x2="439.2" y2="211.4" stroke="#c8c8d4" stroke-width="0.85"/>
<line x1="472.4" y1="183.4" x2="472.4" y2="211.4" stroke="#c8c8d4" stroke-width="0.85"/>
<line x1="475.5" y1="185.3" x2="475.5" y2="211.4" stroke="#c8c8d4" stroke-width="0.85"/>
<line x1="355.7" y1="187.1" x2="355.7" y2="211.4" stroke="#c8c8d4" stroke-width="0.85"/>
<line x1="345.5" y1="190.5" x2="345.5" y2="211.4" stroke="#c8c8d4" stroke-width="0.85"/>
<line x1="349.9" y1="192.7" x2="349.9" y2="211.4" stroke="#c8c8d4" stroke-width="0.85"/>
<line x1="357.2" y1="192.4" x2="357.2" y2="211.4" stroke="#c8c8d4" stroke-width="0.85"/>
<line x1="389.4" y1="191.2" x2="389.4" y2="211.4" stroke="#c8c8d4" stroke-width="0.85"/>
<line x1="334.5" y1="196.4" x2="334.5" y2="211.4" stroke="#c8c8d4" stroke-width="0.85"/>
<line x1="347.7" y1="198.6" x2="347.7" y2="211.4" stroke="#c8c8d4" stroke-width="0.85"/>
<line x1="402.6" y1="189.3" x2="402.6" y2="211.4" stroke="#c8c8d4" stroke-width="0.85"/>
<line x1="413.4" y1="190.9" x2="413.4" y2="211.4" stroke="#c8c8d4" stroke-width="0.85"/>
<line x1="439.8" y1="193.2" x2="439.8" y2="211.4" stroke="#c8c8d4" stroke-width="0.85"/>
<line x1="416.3" y1="194.2" x2="416.3" y2="211.4" stroke="#c8c8d4" stroke-width="0.85"/>
<line x1="426.0" y1="194.2" x2="426.0" y2="211.4" stroke="#c8c8d4" stroke-width="0.85"/>
<line x1="439.7" y1="193.0" x2="439.7" y2="211.4" stroke="#c8c8d4" stroke-width="0.85"/>
<line x1="443.5" y1="196.4" x2="443.5" y2="211.4" stroke="#c8c8d4" stroke-width="0.85"/>
<line x1="458.9" y1="197.8" x2="458.9" y2="211.4" stroke="#c8c8d4" stroke-width="0.85"/>
<line x1="469.0" y1="200.5" x2="469.0" y2="211.4" stroke="#c8c8d4" stroke-width="0.85"/>
<line x1="479.1" y1="198.2" x2="479.1" y2="211.4" stroke="#c8c8d4" stroke-width="0.85"/>
<line x1="266.5" y1="193.0" x2="266.5" y2="211.4" stroke="#c8c8d4" stroke-width="0.85"/>
<line x1="273.5" y1="194.3" x2="273.5" y2="211.4" stroke="#c8c8d4" stroke-width="0.85"/>
<line x1="276.0" y1="196.3" x2="276.0" y2="211.4" stroke="#c8c8d4" stroke-width="0.85"/>
<line x1="278.8" y1="196.3" x2="278.8" y2="211.4" stroke="#c8c8d4" stroke-width="0.85"/>
<line x1="294.0" y1="196.3" x2="294.0" y2="211.4" stroke="#c8c8d4" stroke-width="0.85"/>
<line x1="305.8" y1="196.0" x2="305.8" y2="211.4" stroke="#c8c8d4" stroke-width="0.85"/>
<line x1="316.5" y1="194.7" x2="316.5" y2="211.4" stroke="#c8c8d4" stroke-width="0.85"/>
<line x1="313.8" y1="199.0" x2="313.8" y2="211.4" stroke="#c8c8d4" stroke-width="0.85"/>
<line x1="320.6" y1="199.0" x2="320.6" y2="211.4" stroke="#c8c8d4" stroke-width="0.85"/>
<line x1="201.3" y1="193.0" x2="201.3" y2="211.4" stroke="#c8c8d4" stroke-width="0.85"/>
<line x1="215.9" y1="191.0" x2="215.9" y2="211.4" stroke="#c8c8d4" stroke-width="0.85"/>
<line x1="220.9" y1="197.0" x2="220.9" y2="211.4" stroke="#c8c8d4" stroke-width="0.85"/>
<line x1="211.4" y1="196.3" x2="211.4" y2="211.4" stroke="#c8c8d4" stroke-width="0.85"/>
<line x1="214.8" y1="195.0" x2="214.8" y2="211.4" stroke="#c8c8d4" stroke-width="0.85"/>
<line x1="205.4" y1="200.4" x2="205.4" y2="211.4" stroke="#c8c8d4" stroke-width="0.85"/>
<line x1="235.4" y1="195.0" x2="235.4" y2="211.4" stroke="#c8c8d4" stroke-width="0.85"/>
<line x1="231.6" y1="194.7" x2="231.6" y2="211.4" stroke="#c8c8d4" stroke-width="0.85"/>
<line x1="229.0" y1="199.7" x2="229.0" y2="211.4" stroke="#c8c8d4" stroke-width="0.85"/>
<line x1="266.0" y1="193.0" x2="266.0" y2="211.4" stroke="#c8c8d4" stroke-width="0.85"/>
<line x1="255.9" y1="200.4" x2="255.9" y2="211.4" stroke="#c8c8d4" stroke-width="0.85"/>
<line x1="239.0" y1="201.7" x2="239.0" y2="211.4" stroke="#c8c8d4" stroke-width="0.85"/>
<line x1="177.4" y1="191.2" x2="177.4" y2="211.4" stroke="#c8c8d4" stroke-width="0.85"/>
<line x1="183.7" y1="191.6" x2="183.7" y2="211.4" stroke="#c8c8d4" stroke-width="0.85"/>
<line x1="171.4" y1="193.0" x2="171.4" y2="211.4" stroke="#c8c8d4" stroke-width="0.85"/>
<line x1="200.6" y1="193.0" x2="200.6" y2="211.4" stroke="#c8c8d4" stroke-width="0.85"/>
<circle cx="339.9" cy="206.1" r="2.75" fill="#C81C22" stroke="#7E0E12" stroke-width="0.8"/>
<circle cx="480.2" cy="206.1" r="2.75" fill="#F0DA24" stroke="#B08A00" stroke-width="0.8"/>
<circle cx="323.4" cy="206.1" r="2.75" fill="#F0DA24" stroke="#B08A00" stroke-width="0.8"/>
<circle cx="250.8" cy="206.1" r="2.75" fill="#C81C22" stroke="#7E0E12" stroke-width="0.8"/>
<circle cx="273.9" cy="206.1" r="2.75" fill="#C81C22" stroke="#7E0E12" stroke-width="0.8"/>
<circle cx="332.6" cy="206.1" r="2.75" fill="#F0DA24" stroke="#B08A00" stroke-width="0.8"/>
<circle cx="361.3" cy="206.1" r="2.75" fill="#C81C22" stroke="#7E0E12" stroke-width="0.8"/>
<circle cx="218.6" cy="206.1" r="2.75" fill="#F0DA24" stroke="#B08A00" stroke-width="0.8"/>
<circle cx="320.9" cy="206.0" r="2.75" fill="#F0DA24" stroke="#B08A00" stroke-width="0.8"/>
<circle cx="424.4" cy="206.0" r="2.75" fill="#C81C22" stroke="#7E0E12" stroke-width="0.8"/>
<circle cx="401.1" cy="206.0" r="2.75" fill="#F0DA24" stroke="#B08A00" stroke-width="0.8"/>
<circle cx="184.7" cy="206.0" r="2.75" fill="#C81C22" stroke="#7E0E12" stroke-width="0.8"/>
<circle cx="379.8" cy="206.0" r="2.75" fill="#F0DA24" stroke="#B08A00" stroke-width="0.8"/>
<circle cx="411.0" cy="206.0" r="2.75" fill="#C81C22" stroke="#7E0E12" stroke-width="0.8"/>
<circle cx="364.0" cy="206.0" r="2.75" fill="#C81C22" stroke="#7E0E12" stroke-width="0.8"/>
<circle cx="342.7" cy="206.0" r="2.75" fill="#F0DA24" stroke="#B08A00" stroke-width="0.8"/>
<circle cx="465.1" cy="206.0" r="2.75" fill="#C81C22" stroke="#7E0E12" stroke-width="0.8"/>
<circle cx="172.1" cy="206.0" r="2.75" fill="#F0DA24" stroke="#B08A00" stroke-width="0.8"/>
<circle cx="381.9" cy="206.0" r="2.75" fill="#F0DA24" stroke="#B08A00" stroke-width="0.8"/>
<circle cx="346.8" cy="206.0" r="2.75" fill="#C81C22" stroke="#7E0E12" stroke-width="0.8"/>
<circle cx="459.0" cy="206.0" r="2.75" fill="#C81C22" stroke="#7E0E12" stroke-width="0.8"/>
<circle cx="455.0" cy="205.9" r="2.75" fill="#C81C22" stroke="#7E0E12" stroke-width="0.8"/>
<circle cx="181.7" cy="205.9" r="2.75" fill="#C81C22" stroke="#7E0E12" stroke-width="0.8"/>
<circle cx="200.7" cy="205.9" r="2.75" fill="#C81C22" stroke="#7E0E12" stroke-width="0.8"/>
<circle cx="440.7" cy="205.9" r="2.75" fill="#F0DA24" stroke="#B08A00" stroke-width="0.8"/>
<circle cx="215.6" cy="205.9" r="2.75" fill="#F0DA24" stroke="#B08A00" stroke-width="0.8"/>
<circle cx="326.5" cy="205.9" r="2.75" fill="#1E2650" stroke="#0B0F2A" stroke-width="0.8"/>
<circle cx="169.0" cy="205.9" r="2.75" fill="#C81C22" stroke="#7E0E12" stroke-width="0.8"/>
<circle cx="365.7" cy="205.9" r="2.75" fill="#C81C22" stroke="#7E0E12" stroke-width="0.8"/>
<circle cx="314.8" cy="205.9" r="2.75" fill="#F0DA24" stroke="#B08A00" stroke-width="0.8"/>
<circle cx="337.5" cy="205.9" r="2.75" fill="#F0DA24" stroke="#B08A00" stroke-width="0.8"/>
<circle cx="287.4" cy="205.9" r="2.75" fill="#F0DA24" stroke="#B08A00" stroke-width="0.8"/>
<circle cx="373.8" cy="205.9" r="2.75" fill="#F0DA24" stroke="#B08A00" stroke-width="0.8"/>
<circle cx="398.1" cy="205.9" r="2.75" fill="#F0DA24" stroke="#B08A00" stroke-width="0.8"/>
<circle cx="277.4" cy="205.9" r="2.75" fill="#F0DA24" stroke="#B08A00" stroke-width="0.8"/>
<circle cx="405.5" cy="205.9" r="2.75" fill="#F0DA24" stroke="#B08A00" stroke-width="0.8"/>
<circle cx="221.7" cy="205.8" r="2.75" fill="#F0DA24" stroke="#B08A00" stroke-width="0.8"/>
<circle cx="206.6" cy="205.8" r="2.75" fill="#C81C22" stroke="#7E0E12" stroke-width="0.8"/>
<circle cx="305.2" cy="205.8" r="2.75" fill="#C81C22" stroke="#7E0E12" stroke-width="0.8"/>
<circle cx="450.3" cy="205.8" r="2.75" fill="#F0DA24" stroke="#B08A00" stroke-width="0.8"/>
<circle cx="262.7" cy="205.8" r="2.75" fill="#F0DA24" stroke="#B08A00" stroke-width="0.8"/>
<circle cx="160.6" cy="205.8" r="2.75" fill="#C81C22" stroke="#7E0E12" stroke-width="0.8"/>
<circle cx="357.4" cy="205.8" r="2.75" fill="#C81C22" stroke="#7E0E12" stroke-width="0.8"/>
<circle cx="348.8" cy="205.8" r="2.75" fill="#C81C22" stroke="#7E0E12" stroke-width="0.8"/>
<circle cx="165.7" cy="205.8" r="2.75" fill="#F0DA24" stroke="#B08A00" stroke-width="0.8"/>
<circle cx="290.2" cy="205.7" r="2.75" fill="#C81C22" stroke="#7E0E12" stroke-width="0.8"/>
<circle cx="176.2" cy="205.7" r="2.75" fill="#F0DA24" stroke="#B08A00" stroke-width="0.8"/>
<circle cx="162.0" cy="205.7" r="2.75" fill="#C81C22" stroke="#7E0E12" stroke-width="0.8"/>
<circle cx="259.3" cy="205.7" r="2.75" fill="#F0DA24" stroke="#B08A00" stroke-width="0.8"/>
<circle cx="211.8" cy="205.7" r="2.75" fill="#C81C22" stroke="#7E0E12" stroke-width="0.8"/>
<circle cx="193.5" cy="205.7" r="2.75" fill="#C81C22" stroke="#7E0E12" stroke-width="0.8"/>
<circle cx="311.7" cy="205.7" r="2.75" fill="#C81C22" stroke="#7E0E12" stroke-width="0.8"/>
<circle cx="447.4" cy="205.7" r="2.75" fill="#F0DA24" stroke="#B08A00" stroke-width="0.8"/>
<circle cx="270.9" cy="205.7" r="2.75" fill="#C81C22" stroke="#7E0E12" stroke-width="0.8"/>
<circle cx="436.2" cy="205.7" r="2.75" fill="#F0DA24" stroke="#B08A00" stroke-width="0.8"/>
<circle cx="244.1" cy="205.6" r="2.75" fill="#C81C22" stroke="#7E0E12" stroke-width="0.8"/>
<circle cx="388.2" cy="205.6" r="2.75" fill="#1E2650" stroke="#0B0F2A" stroke-width="0.8"/>
<circle cx="256.3" cy="205.6" r="2.75" fill="#C81C22" stroke="#7E0E12" stroke-width="0.8"/>
<circle cx="434.5" cy="205.6" r="2.75" fill="#F0DA24" stroke="#B08A00" stroke-width="0.8"/>
<circle cx="477.1" cy="205.6" r="2.75" fill="#C81C22" stroke="#7E0E12" stroke-width="0.8"/>
<circle cx="224.9" cy="205.6" r="2.75" fill="#F0DA24" stroke="#B08A00" stroke-width="0.8"/>
<circle cx="156.4" cy="205.6" r="2.75" fill="#C81C22" stroke="#7E0E12" stroke-width="0.8"/>
<circle cx="431.3" cy="205.5" r="2.75" fill="#C81C22" stroke="#7E0E12" stroke-width="0.8"/>
<circle cx="285.6" cy="205.5" r="2.75" fill="#C81C22" stroke="#7E0E12" stroke-width="0.8"/>
<circle cx="422.0" cy="205.5" r="2.75" fill="#F0DA24" stroke="#B08A00" stroke-width="0.8"/>
<circle cx="461.3" cy="205.5" r="2.75" fill="#F0DA24" stroke="#B08A00" stroke-width="0.8"/>
<circle cx="377.3" cy="205.5" r="2.75" fill="#F0DA24" stroke="#B08A00" stroke-width="0.8"/>
<circle cx="452.2" cy="205.5" r="2.75" fill="#F0DA24" stroke="#B08A00" stroke-width="0.8"/>
<circle cx="331.1" cy="205.5" r="2.75" fill="#C81C22" stroke="#7E0E12" stroke-width="0.8"/>
<circle cx="227.4" cy="205.5" r="2.75" fill="#C81C22" stroke="#7E0E12" stroke-width="0.8"/>
<circle cx="443.4" cy="205.5" r="2.75" fill="#F0DA24" stroke="#B08A00" stroke-width="0.8"/>
<circle cx="317.4" cy="205.5" r="2.75" fill="#F0DA24" stroke="#B08A00" stroke-width="0.8"/>
<circle cx="196.2" cy="205.5" r="2.75" fill="#C81C22" stroke="#7E0E12" stroke-width="0.8"/>
<circle cx="419.5" cy="205.5" r="2.75" fill="#C81C22" stroke="#7E0E12" stroke-width="0.8"/>
<circle cx="237.3" cy="205.5" r="2.75" fill="#F0DA24" stroke="#B08A00" stroke-width="0.8"/>
<circle cx="253.1" cy="205.5" r="2.75" fill="#C81C22" stroke="#7E0E12" stroke-width="0.8"/>
<circle cx="471.1" cy="205.5" r="2.75" fill="#F0DA24" stroke="#B08A00" stroke-width="0.8"/>
<circle cx="355.4" cy="205.5" r="2.75" fill="#C81C22" stroke="#7E0E12" stroke-width="0.8"/>
<circle cx="369.6" cy="205.4" r="2.75" fill="#C81C22" stroke="#7E0E12" stroke-width="0.8"/>
<circle cx="191.4" cy="205.4" r="2.75" fill="#F0DA24" stroke="#B08A00" stroke-width="0.8"/>
<circle cx="187.1" cy="205.4" r="2.75" fill="#C81C22" stroke="#7E0E12" stroke-width="0.8"/>
<circle cx="428.8" cy="205.4" r="2.75" fill="#F0DA24" stroke="#B08A00" stroke-width="0.8"/>
<circle cx="302.1" cy="205.4" r="2.75" fill="#F0DA24" stroke="#B08A00" stroke-width="0.8"/>
<circle cx="468.1" cy="205.4" r="2.75" fill="#C81C22" stroke="#7E0E12" stroke-width="0.8"/>
<circle cx="473.8" cy="205.4" r="2.75" fill="#F0DA24" stroke="#B08A00" stroke-width="0.8"/>
<circle cx="210.3" cy="205.4" r="2.75" fill="#C81C22" stroke="#7E0E12" stroke-width="0.8"/>
<circle cx="202.4" cy="205.4" r="2.75" fill="#F0DA24" stroke="#B08A00" stroke-width="0.8"/>
<circle cx="296.7" cy="205.4" r="2.75" fill="#F0DA24" stroke="#B08A00" stroke-width="0.8"/>
<circle cx="282.1" cy="205.4" r="2.75" fill="#F0DA24" stroke="#B08A00" stroke-width="0.8"/>
<circle cx="385.0" cy="205.4" r="2.75" fill="#F0DA24" stroke="#B08A00" stroke-width="0.8"/>
<circle cx="241.7" cy="205.4" r="2.75" fill="#C81C22" stroke="#7E0E12" stroke-width="0.8"/>
<circle cx="351.8" cy="205.4" r="2.75" fill="#F0DA24" stroke="#B08A00" stroke-width="0.8"/>
<circle cx="412.5" cy="205.4" r="2.75" fill="#C81C22" stroke="#7E0E12" stroke-width="0.8"/>
<circle cx="292.9" cy="205.4" r="2.75" fill="#C81C22" stroke="#7E0E12" stroke-width="0.8"/>
<circle cx="230.7" cy="205.4" r="2.75" fill="#C81C22" stroke="#7E0E12" stroke-width="0.8"/>
<circle cx="247.7" cy="205.4" r="2.75" fill="#F0DA24" stroke="#B08A00" stroke-width="0.8"/>
<circle cx="267.9" cy="205.4" r="2.75" fill="#F0DA24" stroke="#B08A00" stroke-width="0.8"/>
<circle cx="264.9" cy="205.4" r="2.75" fill="#C81C22" stroke="#7E0E12" stroke-width="0.8"/>
<circle cx="235.6" cy="205.4" r="2.75" fill="#C81C22" stroke="#7E0E12" stroke-width="0.8"/>
<circle cx="395.8" cy="205.3" r="2.75" fill="#F0DA24" stroke="#B08A00" stroke-width="0.8"/>
<circle cx="392.2" cy="205.3" r="2.75" fill="#C81C22" stroke="#7E0E12" stroke-width="0.8"/>
<circle cx="299.7" cy="205.3" r="2.75" fill="#F0DA24" stroke="#B08A00" stroke-width="0.8"/>
<circle cx="416.2" cy="205.3" r="2.75" fill="#F0DA24" stroke="#B08A00" stroke-width="0.8"/>
<circle cx="406.8" cy="205.3" r="2.75" fill="#F0DA24" stroke="#B08A00" stroke-width="0.8"/>
<circle cx="308.4" cy="205.3" r="2.75" fill="#F0DA24" stroke="#B08A00" stroke-width="0.8"/>
<circle cx="178.3" cy="205.3" r="2.75" fill="#C81C22" stroke="#7E0E12" stroke-width="0.8"/>
<circle cx="171.9" cy="202.9" r="2.75" fill="#C81C22" stroke="#7E0E12" stroke-width="0.8"/>
<circle cx="277.9" cy="202.8" r="2.75" fill="#C81C22" stroke="#7E0E12" stroke-width="0.8"/>
<circle cx="409.4" cy="202.8" r="2.75" fill="#F0DA24" stroke="#B08A00" stroke-width="0.8"/>
<circle cx="345.6" cy="202.7" r="2.75" fill="#F0DA24" stroke="#B08A00" stroke-width="0.8"/>
<circle cx="183.8" cy="202.7" r="2.75" fill="#F0DA24" stroke="#B08A00" stroke-width="0.8"/>
<circle cx="288.2" cy="202.6" r="2.75" fill="#F0DA24" stroke="#B08A00" stroke-width="0.8"/>
<circle cx="363.2" cy="202.6" r="2.75" fill="#C81C22" stroke="#7E0E12" stroke-width="0.8"/>
<circle cx="349.5" cy="202.6" r="2.75" fill="#C81C22" stroke="#7E0E12" stroke-width="0.8"/>
<circle cx="336.6" cy="202.6" r="2.75" fill="#C81C22" stroke="#7E0E12" stroke-width="0.8"/>
<circle cx="225.4" cy="202.6" r="2.75" fill="#C81C22" stroke="#7E0E12" stroke-width="0.8"/>
<circle cx="358.4" cy="202.5" r="2.75" fill="#F0DA24" stroke="#B08A00" stroke-width="0.8"/>
<circle cx="175.3" cy="202.5" r="2.75" fill="#F0DA24" stroke="#B08A00" stroke-width="0.8"/>
<circle cx="194.1" cy="202.5" r="2.75" fill="#C81C22" stroke="#7E0E12" stroke-width="0.8"/>
<circle cx="459.0" cy="202.5" r="2.75" fill="#F0DA24" stroke="#B08A00" stroke-width="0.8"/>
<circle cx="382.0" cy="202.4" r="2.75" fill="#1E2650" stroke="#0B0F2A" stroke-width="0.8"/>
<circle cx="421.8" cy="202.4" r="2.75" fill="#F0DA24" stroke="#B08A00" stroke-width="0.8"/>
<circle cx="430.6" cy="202.4" r="2.75" fill="#C81C22" stroke="#7E0E12" stroke-width="0.8"/>
<circle cx="228.9" cy="202.4" r="2.75" fill="#C81C22" stroke="#7E0E12" stroke-width="0.8"/>
<circle cx="252.3" cy="202.4" r="2.75" fill="#C81C22" stroke="#7E0E12" stroke-width="0.8"/>
<circle cx="321.5" cy="202.4" r="2.75" fill="#C81C22" stroke="#7E0E12" stroke-width="0.8"/>
<circle cx="181.1" cy="202.4" r="2.75" fill="#C81C22" stroke="#7E0E12" stroke-width="0.8"/>
<circle cx="366.8" cy="202.4" r="2.75" fill="#F0DA24" stroke="#B08A00" stroke-width="0.8"/>
<circle cx="317.1" cy="202.3" r="2.75" fill="#C81C22" stroke="#7E0E12" stroke-width="0.8"/>
<circle cx="404.4" cy="202.3" r="2.75" fill="#C81C22" stroke="#7E0E12" stroke-width="0.8"/>
<circle cx="440.0" cy="202.3" r="2.75" fill="#C81C22" stroke="#7E0E12" stroke-width="0.8"/>
<circle cx="323.1" cy="202.3" r="2.75" fill="#C81C22" stroke="#7E0E12" stroke-width="0.8"/>
<circle cx="342.6" cy="202.3" r="2.75" fill="#C81C22" stroke="#7E0E12" stroke-width="0.8"/>
<circle cx="352.4" cy="202.3" r="2.75" fill="#C81C22" stroke="#7E0E12" stroke-width="0.8"/>
<circle cx="218.4" cy="202.3" r="2.75" fill="#C81C22" stroke="#7E0E12" stroke-width="0.8"/>
<circle cx="187.1" cy="202.3" r="2.75" fill="#F0DA24" stroke="#B08A00" stroke-width="0.8"/>
<circle cx="169.1" cy="202.3" r="2.75" fill="#F0DA24" stroke="#B08A00" stroke-width="0.8"/>
<circle cx="428.6" cy="202.3" r="2.75" fill="#C81C22" stroke="#7E0E12" stroke-width="0.8"/>
<circle cx="361.1" cy="202.2" r="2.75" fill="#F0DA24" stroke="#B08A00" stroke-width="0.8"/>
<circle cx="433.9" cy="202.2" r="2.75" fill="#C81C22" stroke="#7E0E12" stroke-width="0.8"/>
<circle cx="200.8" cy="202.2" r="2.75" fill="#C81C22" stroke="#7E0E12" stroke-width="0.8"/>
<circle cx="463.5" cy="202.2" r="2.75" fill="#F0DA24" stroke="#B08A00" stroke-width="0.8"/>
<circle cx="296.3" cy="202.2" r="2.75" fill="#F0DA24" stroke="#B08A00" stroke-width="0.8"/>
<circle cx="237.0" cy="202.2" r="2.75" fill="#C81C22" stroke="#7E0E12" stroke-width="0.8"/>
<circle cx="249.7" cy="202.2" r="2.75" fill="#C81C22" stroke="#7E0E12" stroke-width="0.8"/>
<circle cx="425.0" cy="202.2" r="2.75" fill="#C81C22" stroke="#7E0E12" stroke-width="0.8"/>
<circle cx="398.1" cy="202.2" r="2.75" fill="#F0DA24" stroke="#B08A00" stroke-width="0.8"/>
<circle cx="293.8" cy="202.1" r="2.75" fill="#F0DA24" stroke="#B08A00" stroke-width="0.8"/>
<circle cx="462.0" cy="202.1" r="2.75" fill="#F0DA24" stroke="#B08A00" stroke-width="0.8"/>
<circle cx="191.5" cy="202.1" r="2.75" fill="#F0DA24" stroke="#B08A00" stroke-width="0.8"/>
<circle cx="281.2" cy="202.1" r="2.75" fill="#F0DA24" stroke="#B08A00" stroke-width="0.8"/>
<circle cx="444.4" cy="202.1" r="2.75" fill="#F0DA24" stroke="#B08A00" stroke-width="0.8"/>
<circle cx="162.5" cy="202.1" r="2.75" fill="#C81C22" stroke="#7E0E12" stroke-width="0.8"/>
<circle cx="246.8" cy="202.1" r="2.75" fill="#C81C22" stroke="#7E0E12" stroke-width="0.8"/>
<circle cx="215.8" cy="202.1" r="2.75" fill="#C81C22" stroke="#7E0E12" stroke-width="0.8"/>
<circle cx="412.3" cy="202.1" r="2.75" fill="#C81C22" stroke="#7E0E12" stroke-width="0.8"/>
<circle cx="267.7" cy="202.1" r="2.75" fill="#1E2650" stroke="#0B0F2A" stroke-width="0.8"/>
<circle cx="156.2" cy="202.1" r="2.75" fill="#C81C22" stroke="#7E0E12" stroke-width="0.8"/>
<circle cx="284.6" cy="202.1" r="2.75" fill="#F0DA24" stroke="#B08A00" stroke-width="0.8"/>
<circle cx="369.5" cy="202.1" r="2.75" fill="#C81C22" stroke="#7E0E12" stroke-width="0.8"/>
<circle cx="388.4" cy="202.0" r="2.75" fill="#F0DA24" stroke="#B08A00" stroke-width="0.8"/>
<circle cx="476.4" cy="202.0" r="2.75" fill="#F0DA24" stroke="#B08A00" stroke-width="0.8"/>
<circle cx="419.5" cy="202.0" r="2.75" fill="#F0DA24" stroke="#B08A00" stroke-width="0.8"/>
<circle cx="260.0" cy="202.0" r="2.75" fill="#F0DA24" stroke="#B08A00" stroke-width="0.8"/>
<circle cx="255.8" cy="202.0" r="2.75" fill="#F0DA24" stroke="#B08A00" stroke-width="0.8"/>
<circle cx="450.0" cy="202.0" r="2.75" fill="#F0DA24" stroke="#B08A00" stroke-width="0.8"/>
<circle cx="160.5" cy="201.9" r="2.75" fill="#C81C22" stroke="#7E0E12" stroke-width="0.8"/>
<circle cx="329.8" cy="201.9" r="2.75" fill="#F0DA24" stroke="#B08A00" stroke-width="0.8"/>
<circle cx="385.5" cy="201.9" r="2.75" fill="#C81C22" stroke="#7E0E12" stroke-width="0.8"/>
<circle cx="299.1" cy="201.8" r="2.75" fill="#F0DA24" stroke="#B08A00" stroke-width="0.8"/>
<circle cx="302.5" cy="201.8" r="2.75" fill="#F0DA24" stroke="#B08A00" stroke-width="0.8"/>
<circle cx="376.3" cy="201.7" r="2.75" fill="#C81C22" stroke="#7E0E12" stroke-width="0.8"/>
<circle cx="355.6" cy="201.6" r="2.75" fill="#F0DA24" stroke="#B08A00" stroke-width="0.8"/>
<circle cx="474.4" cy="201.6" r="2.75" fill="#F0DA24" stroke="#B08A00" stroke-width="0.8"/>
<circle cx="241.1" cy="201.6" r="2.75" fill="#F0DA24" stroke="#B08A00" stroke-width="0.8"/>
<circle cx="467.8" cy="201.6" r="2.75" fill="#F0DA24" stroke="#B08A00" stroke-width="0.8"/>
<circle cx="277.6" cy="199.7" r="2.75" fill="#C81C22" stroke="#7E0E12" stroke-width="0.8"/>
<circle cx="349.7" cy="199.6" r="2.75" fill="#C81C22" stroke="#7E0E12" stroke-width="0.8"/>
<circle cx="213.1" cy="199.6" r="2.75" fill="#C81C22" stroke="#7E0E12" stroke-width="0.8"/>
<circle cx="480.9" cy="199.5" r="2.75" fill="#F0DA24" stroke="#B08A00" stroke-width="0.8"/>
<circle cx="315.3" cy="199.4" r="2.75" fill="#F0DA24" stroke="#B08A00" stroke-width="0.8"/>
<circle cx="382.5" cy="199.4" r="2.75" fill="#F0DA24" stroke="#B08A00" stroke-width="0.8"/>
<circle cx="166.1" cy="199.4" r="2.75" fill="#C81C22" stroke="#7E0E12" stroke-width="0.8"/>
<circle cx="175.1" cy="199.4" r="2.75" fill="#C81C22" stroke="#7E0E12" stroke-width="0.8"/>
<circle cx="380.2" cy="199.3" r="2.75" fill="#F0DA24" stroke="#B08A00" stroke-width="0.8"/>
<circle cx="287.9" cy="199.3" r="2.75" fill="#C81C22" stroke="#7E0E12" stroke-width="0.8"/>
<circle cx="317.4" cy="199.3" r="2.75" fill="#F0DA24" stroke="#B08A00" stroke-width="0.8"/>
<circle cx="223.3" cy="199.3" r="2.75" fill="#C81C22" stroke="#7E0E12" stroke-width="0.8"/>
<circle cx="393.0" cy="199.3" r="2.75" fill="#C81C22" stroke="#7E0E12" stroke-width="0.8"/>
<circle cx="183.8" cy="199.3" r="2.75" fill="#C81C22" stroke="#7E0E12" stroke-width="0.8"/>
<circle cx="172.0" cy="199.2" r="2.75" fill="#F0DA24" stroke="#B08A00" stroke-width="0.8"/>
<circle cx="340.2" cy="199.2" r="2.75" fill="#F0DA24" stroke="#B08A00" stroke-width="0.8"/>
<circle cx="458.0" cy="199.2" r="2.75" fill="#C81C22" stroke="#7E0E12" stroke-width="0.8"/>
<circle cx="253.2" cy="199.2" r="2.75" fill="#F0DA24" stroke="#B08A00" stroke-width="0.8"/>
<circle cx="305.6" cy="199.1" r="2.75" fill="#C81C22" stroke="#7E0E12" stroke-width="0.8"/>
<circle cx="262.5" cy="199.1" r="2.75" fill="#C81C22" stroke="#7E0E12" stroke-width="0.8"/>
<circle cx="291.1" cy="199.1" r="2.75" fill="#F0DA24" stroke="#B08A00" stroke-width="0.8"/>
<circle cx="431.8" cy="199.1" r="2.75" fill="#C81C22" stroke="#7E0E12" stroke-width="0.8"/>
<circle cx="219.4" cy="199.1" r="2.75" fill="#F0DA24" stroke="#B08A00" stroke-width="0.8"/>
<circle cx="320.3" cy="199.1" r="2.75" fill="#C81C22" stroke="#7E0E12" stroke-width="0.8"/>
<circle cx="181.0" cy="199.1" r="2.75" fill="#C81C22" stroke="#7E0E12" stroke-width="0.8"/>
<circle cx="224.7" cy="199.0" r="2.75" fill="#F0DA24" stroke="#B08A00" stroke-width="0.8"/>
<circle cx="238.0" cy="199.0" r="2.75" fill="#C81C22" stroke="#7E0E12" stroke-width="0.8"/>
<circle cx="311.1" cy="198.9" r="2.75" fill="#F0DA24" stroke="#B08A00" stroke-width="0.8"/>
<circle cx="433.5" cy="198.9" r="2.75" fill="#F0DA24" stroke="#B08A00" stroke-width="0.8"/>
<circle cx="346.8" cy="198.9" r="2.75" fill="#C81C22" stroke="#7E0E12" stroke-width="0.8"/>
<circle cx="268.9" cy="198.8" r="2.75" fill="#C81C22" stroke="#7E0E12" stroke-width="0.8"/>
<circle cx="333.4" cy="198.8" r="2.75" fill="#F0DA24" stroke="#B08A00" stroke-width="0.8"/>
<circle cx="206.2" cy="198.8" r="2.75" fill="#C81C22" stroke="#7E0E12" stroke-width="0.8"/>
<circle cx="366.9" cy="198.8" r="2.75" fill="#F0DA24" stroke="#B08A00" stroke-width="0.8"/>
<circle cx="451.8" cy="198.8" r="2.75" fill="#F0DA24" stroke="#B08A00" stroke-width="0.8"/>
<circle cx="160.4" cy="198.8" r="2.75" fill="#C81C22" stroke="#7E0E12" stroke-width="0.8"/>
<circle cx="281.0" cy="198.8" r="2.75" fill="#1E2650" stroke="#0B0F2A" stroke-width="0.8"/>
<circle cx="425.7" cy="198.8" r="2.75" fill="#F0DA24" stroke="#B08A00" stroke-width="0.8"/>
<circle cx="272.2" cy="198.8" r="2.75" fill="#F0DA24" stroke="#B08A00" stroke-width="0.8"/>
<circle cx="258.7" cy="198.8" r="2.75" fill="#C81C22" stroke="#7E0E12" stroke-width="0.8"/>
<circle cx="292.9" cy="198.8" r="2.75" fill="#C81C22" stroke="#7E0E12" stroke-width="0.8"/>
<circle cx="422.3" cy="198.7" r="2.75" fill="#F0DA24" stroke="#B08A00" stroke-width="0.8"/>
<circle cx="445.9" cy="198.7" r="2.75" fill="#F0DA24" stroke="#B08A00" stroke-width="0.8"/>
<circle cx="156.3" cy="198.7" r="2.75" fill="#F0DA24" stroke="#B08A00" stroke-width="0.8"/>
<circle cx="455.3" cy="198.7" r="2.75" fill="#F0DA24" stroke="#B08A00" stroke-width="0.8"/>
<circle cx="395.5" cy="198.7" r="2.75" fill="#C81C22" stroke="#7E0E12" stroke-width="0.8"/>
<circle cx="376.1" cy="198.7" r="2.75" fill="#F0DA24" stroke="#B08A00" stroke-width="0.8"/>
<circle cx="407.4" cy="198.6" r="2.75" fill="#F0DA24" stroke="#B08A00" stroke-width="0.8"/>
<circle cx="463.7" cy="198.6" r="2.75" fill="#C81C22" stroke="#7E0E12" stroke-width="0.8"/>
<circle cx="373.7" cy="198.6" r="2.75" fill="#C81C22" stroke="#7E0E12" stroke-width="0.8"/>
<circle cx="437.3" cy="198.6" r="2.75" fill="#C81C22" stroke="#7E0E12" stroke-width="0.8"/>
<circle cx="235.0" cy="198.6" r="2.75" fill="#C81C22" stroke="#7E0E12" stroke-width="0.8"/>
<circle cx="470.3" cy="198.6" r="2.75" fill="#F0DA24" stroke="#B08A00" stroke-width="0.8"/>
<circle cx="417.0" cy="198.5" r="2.75" fill="#F0DA24" stroke="#B08A00" stroke-width="0.8"/>
<circle cx="404.0" cy="198.5" r="2.75" fill="#F0DA24" stroke="#B08A00" stroke-width="0.8"/>
<circle cx="342.8" cy="198.5" r="2.75" fill="#F0DA24" stroke="#B08A00" stroke-width="0.8"/>
<circle cx="323.7" cy="198.5" r="2.75" fill="#C81C22" stroke="#7E0E12" stroke-width="0.8"/>
<circle cx="370.0" cy="198.5" r="2.75" fill="#F0DA24" stroke="#B08A00" stroke-width="0.8"/>
<circle cx="215.6" cy="198.5" r="2.75" fill="#F0DA24" stroke="#B08A00" stroke-width="0.8"/>
<circle cx="412.9" cy="198.4" r="2.75" fill="#F0DA24" stroke="#B08A00" stroke-width="0.8"/>
<circle cx="169.2" cy="198.4" r="2.75" fill="#F0DA24" stroke="#B08A00" stroke-width="0.8"/>
<circle cx="202.7" cy="198.4" r="2.75" fill="#C81C22" stroke="#7E0E12" stroke-width="0.8"/>
<circle cx="285.5" cy="198.3" r="2.75" fill="#F0DA24" stroke="#B08A00" stroke-width="0.8"/>
<circle cx="308.3" cy="198.3" r="2.75" fill="#F0DA24" stroke="#B08A00" stroke-width="0.8"/>
<circle cx="265.3" cy="198.2" r="2.75" fill="#F0DA24" stroke="#B08A00" stroke-width="0.8"/>
<circle cx="354.1" cy="198.2" r="2.75" fill="#F0DA24" stroke="#B08A00" stroke-width="0.8"/>
<circle cx="197.0" cy="198.2" r="2.75" fill="#C81C22" stroke="#7E0E12" stroke-width="0.8"/>
<circle cx="384.7" cy="198.0" r="2.75" fill="#F0DA24" stroke="#B08A00" stroke-width="0.8"/>
<circle cx="178.7" cy="198.0" r="2.75" fill="#F0DA24" stroke="#B08A00" stroke-width="0.8"/>
<circle cx="336.0" cy="196.2" r="2.75" fill="#C81C22" stroke="#7E0E12" stroke-width="0.8"/>
<circle cx="213.2" cy="196.1" r="2.75" fill="#C81C22" stroke="#7E0E12" stroke-width="0.8"/>
<circle cx="398.0" cy="196.0" r="2.75" fill="#F0DA24" stroke="#B08A00" stroke-width="0.8"/>
<circle cx="366.5" cy="195.8" r="2.75" fill="#F0DA24" stroke="#B08A00" stroke-width="0.8"/>
<circle cx="380.2" cy="195.8" r="2.75" fill="#C81C22" stroke="#7E0E12" stroke-width="0.8"/>
<circle cx="351.8" cy="195.7" r="2.75" fill="#F0DA24" stroke="#B08A00" stroke-width="0.8"/>
<circle cx="392.4" cy="195.7" r="2.75" fill="#C81C22" stroke="#7E0E12" stroke-width="0.8"/>
<circle cx="381.8" cy="195.6" r="2.75" fill="#C81C22" stroke="#7E0E12" stroke-width="0.8"/>
<circle cx="394.2" cy="195.6" r="2.75" fill="#F0DA24" stroke="#B08A00" stroke-width="0.8"/>
<circle cx="369.4" cy="195.4" r="2.75" fill="#C81C22" stroke="#7E0E12" stroke-width="0.8"/>
<circle cx="343.6" cy="195.1" r="2.75" fill="#F0DA24" stroke="#B08A00" stroke-width="0.8"/>
<circle cx="377.2" cy="194.9" r="2.75" fill="#F0DA24" stroke="#B08A00" stroke-width="0.8"/>
<circle cx="33.7" cy="203.9" r="2.75" fill="#F0DA24" stroke="#B08A00" stroke-width="0.8"/>
<circle cx="37.1" cy="203.5" r="2.75" fill="#C81C22" stroke="#7E0E12" stroke-width="0.8"/>
<circle cx="39.8" cy="205.5" r="2.75" fill="#F0DA24" stroke="#B08A00" stroke-width="0.8"/>
<circle cx="43.8" cy="203.0" r="2.75" fill="#F0DA24" stroke="#B08A00" stroke-width="0.8"/>
<circle cx="48.5" cy="206.0" r="2.75" fill="#F0DA24" stroke="#B08A00" stroke-width="0.8"/>
<circle cx="51.0" cy="205.5" r="2.75" fill="#F0DA24" stroke="#B08A00" stroke-width="0.8"/>
<circle cx="59.7" cy="200.0" r="2.75" fill="#C81C22" stroke="#7E0E12" stroke-width="0.8"/>
<circle cx="58.0" cy="206.0" r="2.75" fill="#F0DA24" stroke="#B08A00" stroke-width="0.8"/>
<circle cx="61.3" cy="206.0" r="2.75" fill="#F0DA24" stroke="#B08A00" stroke-width="0.8"/>
<circle cx="64.7" cy="206.0" r="2.75" fill="#F0DA24" stroke="#B08A00" stroke-width="0.8"/>
<circle cx="72.0" cy="204.0" r="2.75" fill="#F0DA24" stroke="#B08A00" stroke-width="0.8"/>
<circle cx="75.5" cy="206.0" r="2.75" fill="#F0DA24" stroke="#B08A00" stroke-width="0.8"/>
<circle cx="82.2" cy="201.5" r="2.75" fill="#F0DA24" stroke="#B08A00" stroke-width="0.8"/>
<circle cx="80.9" cy="206.0" r="2.75" fill="#C81C22" stroke="#7E0E12" stroke-width="0.8"/>
<circle cx="86.2" cy="206.0" r="2.75" fill="#F0DA24" stroke="#B08A00" stroke-width="0.8"/>
<circle cx="89.6" cy="206.0" r="2.75" fill="#F0DA24" stroke="#B08A00" stroke-width="0.8"/>
<circle cx="91.3" cy="206.0" r="2.75" fill="#F0DA24" stroke="#B08A00" stroke-width="0.8"/>
<circle cx="94.7" cy="206.0" r="2.75" fill="#C81C22" stroke="#7E0E12" stroke-width="0.8"/>
<circle cx="98.0" cy="203.0" r="2.75" fill="#C81C22" stroke="#7E0E12" stroke-width="0.8"/>
<circle cx="102.0" cy="203.0" r="2.75" fill="#F0DA24" stroke="#B08A00" stroke-width="0.8"/>
<circle cx="105.5" cy="206.0" r="2.75" fill="#F0DA24" stroke="#B08A00" stroke-width="0.8"/>
<circle cx="116.2" cy="206.0" r="2.75" fill="#F0DA24" stroke="#B08A00" stroke-width="0.8"/>
<circle cx="120.3" cy="206.0" r="2.75" fill="#F0DA24" stroke="#B08A00" stroke-width="0.8"/>
<circle cx="125.0" cy="206.0" r="2.75" fill="#F0DA24" stroke="#B08A00" stroke-width="0.8"/>
<circle cx="129.0" cy="205.0" r="2.75" fill="#F0DA24" stroke="#B08A00" stroke-width="0.8"/>
<circle cx="131.0" cy="203.0" r="2.75" fill="#F0DA24" stroke="#B08A00" stroke-width="0.8"/>
<circle cx="142.5" cy="206.0" r="2.75" fill="#F0DA24" stroke="#B08A00" stroke-width="0.8"/>
<circle cx="144.5" cy="200.0" r="2.75" fill="#C81C22" stroke="#7E0E12" stroke-width="0.8"/>
<circle cx="148.0" cy="202.0" r="2.75" fill="#C81C22" stroke="#7E0E12" stroke-width="0.8"/>
<circle cx="152.0" cy="203.0" r="2.75" fill="#C81C22" stroke="#7E0E12" stroke-width="0.8"/>
<circle cx="155.0" cy="205.0" r="2.75" fill="#C81C22" stroke="#7E0E12" stroke-width="0.8"/>
<circle cx="158.0" cy="206.0" r="2.75" fill="#F0DA24" stroke="#B08A00" stroke-width="0.8"/>
<circle cx="191.5" cy="149.4" r="2.75" fill="#F0DA24" stroke="#B08A00" stroke-width="0.8"/>
<circle cx="299.2" cy="73.5" r="2.75" fill="#F0DA24" stroke="#B08A00" stroke-width="0.8"/>
<circle cx="185.4" cy="179.8" r="2.75" fill="#C81C22" stroke="#7E0E12" stroke-width="0.8"/>
<circle cx="188.7" cy="187.6" r="2.75" fill="#C81C22" stroke="#7E0E12" stroke-width="0.8"/>
<circle cx="300.4" cy="185.6" r="2.75" fill="#F0DA24" stroke="#B08A00" stroke-width="0.8"/>
<circle cx="305.8" cy="185.3" r="2.75" fill="#C81C22" stroke="#7E0E12" stroke-width="0.8"/>
<circle cx="317.9" cy="179.9" r="2.75" fill="#F0DA24" stroke="#B08A00" stroke-width="0.8"/>
<circle cx="326.5" cy="179.7" r="2.75" fill="#C81C22" stroke="#7E0E12" stroke-width="0.8"/>
<circle cx="344.8" cy="156.8" r="2.75" fill="#F0DA24" stroke="#B08A00" stroke-width="0.8"/>
<circle cx="373.3" cy="155.1" r="2.75" fill="#F0DA24" stroke="#B08A00" stroke-width="0.8"/>
<circle cx="384.0" cy="156.8" r="2.75" fill="#F0DA24" stroke="#B08A00" stroke-width="0.8"/>
<circle cx="394.0" cy="159.0" r="2.75" fill="#F0DA24" stroke="#B08A00" stroke-width="0.8"/>
<circle cx="394.8" cy="134.2" r="2.75" fill="#F0DA24" stroke="#B08A00" stroke-width="0.8"/>
<circle cx="412.0" cy="153.2" r="2.75" fill="#C81C22" stroke="#7E0E12" stroke-width="0.8"/>
<circle cx="401.2" cy="168.2" r="2.75" fill="#F0DA24" stroke="#B08A00" stroke-width="0.8"/>
<circle cx="390.5" cy="174.6" r="2.75" fill="#F0DA24" stroke="#B08A00" stroke-width="0.8"/>
<circle cx="392.8" cy="178.0" r="2.75" fill="#1E2650" stroke="#0B0F2A" stroke-width="0.8"/>
<circle cx="386.0" cy="183.4" r="2.75" fill="#F0DA24" stroke="#B08A00" stroke-width="0.8"/>
<circle cx="380.0" cy="181.7" r="2.75" fill="#F0DA24" stroke="#B08A00" stroke-width="0.8"/>
<circle cx="384.7" cy="183.6" r="2.75" fill="#F0DA24" stroke="#B08A00" stroke-width="0.8"/>
<circle cx="411.8" cy="183.4" r="2.75" fill="#F0DA24" stroke="#B08A00" stroke-width="0.8"/>
<circle cx="428.0" cy="181.5" r="2.75" fill="#C81C22" stroke="#7E0E12" stroke-width="0.8"/>
<circle cx="438.8" cy="185.0" r="2.75" fill="#F0DA24" stroke="#B08A00" stroke-width="0.8"/>
<circle cx="447.2" cy="187.4" r="2.75" fill="#F0DA24" stroke="#B08A00" stroke-width="0.8"/>
<circle cx="477.8" cy="164.4" r="2.75" fill="#F0DA24" stroke="#B08A00" stroke-width="0.8"/>
<circle cx="456.0" cy="172.2" r="2.75" fill="#F0DA24" stroke="#B08A00" stroke-width="0.8"/>
<circle cx="465.7" cy="174.0" r="2.75" fill="#F0DA24" stroke="#B08A00" stroke-width="0.8"/>
<circle cx="439.2" cy="185.3" r="2.75" fill="#F0DA24" stroke="#B08A00" stroke-width="0.8"/>
<circle cx="472.4" cy="183.4" r="2.75" fill="#F0DA24" stroke="#B08A00" stroke-width="0.8"/>
<circle cx="475.5" cy="185.3" r="2.75" fill="#F0DA24" stroke="#B08A00" stroke-width="0.8"/>
<circle cx="355.7" cy="187.1" r="2.75" fill="#F0DA24" stroke="#B08A00" stroke-width="0.8"/>
<circle cx="345.5" cy="190.5" r="2.75" fill="#F0DA24" stroke="#B08A00" stroke-width="0.8"/>
<circle cx="349.9" cy="192.7" r="2.75" fill="#C81C22" stroke="#7E0E12" stroke-width="0.8"/>
<circle cx="357.2" cy="192.4" r="2.75" fill="#F0DA24" stroke="#B08A00" stroke-width="0.8"/>
<circle cx="389.4" cy="191.2" r="2.75" fill="#C81C22" stroke="#7E0E12" stroke-width="0.8"/>
<circle cx="334.5" cy="196.4" r="2.75" fill="#C81C22" stroke="#7E0E12" stroke-width="0.8"/>
<circle cx="347.7" cy="198.6" r="2.75" fill="#C81C22" stroke="#7E0E12" stroke-width="0.8"/>
<circle cx="402.6" cy="189.3" r="2.75" fill="#F0DA24" stroke="#B08A00" stroke-width="0.8"/>
<circle cx="413.4" cy="190.9" r="2.75" fill="#C81C22" stroke="#7E0E12" stroke-width="0.8"/>
<circle cx="439.8" cy="193.2" r="2.75" fill="#C81C22" stroke="#7E0E12" stroke-width="0.8"/>
<circle cx="416.3" cy="194.2" r="2.75" fill="#F0DA24" stroke="#B08A00" stroke-width="0.8"/>
<circle cx="426.0" cy="194.2" r="2.75" fill="#F0DA24" stroke="#B08A00" stroke-width="0.8"/>
<circle cx="439.7" cy="193.0" r="2.75" fill="#C81C22" stroke="#7E0E12" stroke-width="0.8"/>
<circle cx="443.5" cy="196.4" r="2.75" fill="#F0DA24" stroke="#B08A00" stroke-width="0.8"/>
<circle cx="458.9" cy="197.8" r="2.75" fill="#C81C22" stroke="#7E0E12" stroke-width="0.8"/>
<circle cx="469.0" cy="200.5" r="2.75" fill="#C81C22" stroke="#7E0E12" stroke-width="0.8"/>
<circle cx="479.1" cy="198.2" r="2.75" fill="#C81C22" stroke="#7E0E12" stroke-width="0.8"/>
<circle cx="266.5" cy="193.0" r="2.75" fill="#C81C22" stroke="#7E0E12" stroke-width="0.8"/>
<circle cx="273.5" cy="194.3" r="2.75" fill="#C81C22" stroke="#7E0E12" stroke-width="0.8"/>
<circle cx="276.0" cy="196.3" r="2.75" fill="#F0DA24" stroke="#B08A00" stroke-width="0.8"/>
<circle cx="278.8" cy="196.3" r="2.75" fill="#F0DA24" stroke="#B08A00" stroke-width="0.8"/>
<circle cx="294.0" cy="196.3" r="2.75" fill="#F0DA24" stroke="#B08A00" stroke-width="0.8"/>
<circle cx="305.8" cy="196.0" r="2.75" fill="#C81C22" stroke="#7E0E12" stroke-width="0.8"/>
<circle cx="316.5" cy="194.7" r="2.75" fill="#C81C22" stroke="#7E0E12" stroke-width="0.8"/>
<circle cx="313.8" cy="199.0" r="2.75" fill="#1E2650" stroke="#0B0F2A" stroke-width="0.8"/>
<circle cx="320.6" cy="199.0" r="2.75" fill="#F0DA24" stroke="#B08A00" stroke-width="0.8"/>
<circle cx="201.3" cy="193.0" r="2.75" fill="#F0DA24" stroke="#B08A00" stroke-width="0.8"/>
<circle cx="215.9" cy="191.0" r="2.75" fill="#C81C22" stroke="#7E0E12" stroke-width="0.8"/>
<circle cx="220.9" cy="197.0" r="2.75" fill="#C81C22" stroke="#7E0E12" stroke-width="0.8"/>
<circle cx="211.4" cy="196.3" r="2.75" fill="#F0DA24" stroke="#B08A00" stroke-width="0.8"/>
<circle cx="214.8" cy="195.0" r="2.75" fill="#C81C22" stroke="#7E0E12" stroke-width="0.8"/>
<circle cx="205.4" cy="200.4" r="2.75" fill="#C81C22" stroke="#7E0E12" stroke-width="0.8"/>
<circle cx="235.4" cy="195.0" r="2.75" fill="#C81C22" stroke="#7E0E12" stroke-width="0.8"/>
<circle cx="231.6" cy="194.7" r="2.75" fill="#F0DA24" stroke="#B08A00" stroke-width="0.8"/>
<circle cx="229.0" cy="199.7" r="2.75" fill="#C81C22" stroke="#7E0E12" stroke-width="0.8"/>
<circle cx="266.0" cy="193.0" r="2.75" fill="#C81C22" stroke="#7E0E12" stroke-width="0.8"/>
<circle cx="255.9" cy="200.4" r="2.75" fill="#C81C22" stroke="#7E0E12" stroke-width="0.8"/>
<circle cx="239.0" cy="201.7" r="2.75" fill="#F0DA24" stroke="#B08A00" stroke-width="0.8"/>
<circle cx="177.4" cy="191.2" r="2.75" fill="#C81C22" stroke="#7E0E12" stroke-width="0.8"/>
<circle cx="183.7" cy="191.6" r="2.75" fill="#F0DA24" stroke="#B08A00" stroke-width="0.8"/>
<circle cx="171.4" cy="193.0" r="2.75" fill="#C81C22" stroke="#7E0E12" stroke-width="0.8"/>
<circle cx="200.6" cy="193.0" r="2.75" fill="#F0DA24" stroke="#B08A00" stroke-width="0.8"/>
</g>
<rect x="30.8" y="214" width="451.7" height="9.2" fill="#8d8d8d"/>
<rect x="167.9" y="213" width="72.5" height="11.4" fill="#AA1B1B"/>
<rect x="265.9" y="213" width="68" height="11.4" fill="#5F574C"/>
<rect x="340.8" y="213" width="141.9" height="11.4" fill="#AA1B1B"/>
<text x="204.2" y="221.6" font-family='"Liberation Sans", sans-serif' font-size="8.6" font-weight="normal" fill="#fff" text-anchor="middle" >PWWP</text>
<text x="300" y="221.6" font-family='"Liberation Sans", sans-serif' font-size="8.6" font-weight="normal" fill="#fff" text-anchor="middle" >ADD</text>
<text x="411" y="221.6" font-family='"Liberation Sans", sans-serif' font-size="8.6" font-weight="normal" fill="#fff" text-anchor="middle" >MTase</text>
<line x1="30.8" y1="229.6" x2="30.8" y2="232.2" stroke="#bbb" stroke-width="0.6"/>
<text x="30.8" y="240.3" font-family='"Liberation Serif", serif' font-size="7.1" font-weight="normal" fill="#3a3a3a" text-anchor="middle" >0</text>
<line x1="80.3" y1="229.6" x2="80.3" y2="232.2" stroke="#bbb" stroke-width="0.6"/>
<text x="80.3" y="240.3" font-family='"Liberation Serif", serif' font-size="7.1" font-weight="normal" fill="#3a3a3a" text-anchor="middle" >100</text>
<line x1="129.9" y1="229.6" x2="129.9" y2="232.2" stroke="#bbb" stroke-width="0.6"/>
<text x="129.9" y="240.3" font-family='"Liberation Serif", serif' font-size="7.1" font-weight="normal" fill="#3a3a3a" text-anchor="middle" >200</text>
<line x1="179.5" y1="229.6" x2="179.5" y2="232.2" stroke="#bbb" stroke-width="0.6"/>
<text x="179.5" y="240.3" font-family='"Liberation Serif", serif' font-size="7.1" font-weight="normal" fill="#3a3a3a" text-anchor="middle" >300</text>
<line x1="229.0" y1="229.6" x2="229.0" y2="232.2" stroke="#bbb" stroke-width="0.6"/>
<text x="229.0" y="240.3" font-family='"Liberation Serif", serif' font-size="7.1" font-weight="normal" fill="#3a3a3a" text-anchor="middle" >400</text>
<line x1="278.6" y1="229.6" x2="278.6" y2="232.2" stroke="#bbb" stroke-width="0.6"/>
<text x="278.6" y="240.3" font-family='"Liberation Serif", serif' font-size="7.1" font-weight="normal" fill="#3a3a3a" text-anchor="middle" >500</text>
<line x1="328.1" y1="229.6" x2="328.1" y2="232.2" stroke="#bbb" stroke-width="0.6"/>
<text x="328.1" y="240.3" font-family='"Liberation Serif", serif' font-size="7.1" font-weight="normal" fill="#3a3a3a" text-anchor="middle" >600</text>
<line x1="377.7" y1="229.6" x2="377.7" y2="232.2" stroke="#bbb" stroke-width="0.6"/>
<text x="377.7" y="240.3" font-family='"Liberation Serif", serif' font-size="7.1" font-weight="normal" fill="#3a3a3a" text-anchor="middle" >700</text>
<line x1="427.2" y1="229.6" x2="427.2" y2="232.2" stroke="#bbb" stroke-width="0.6"/>
<text x="427.2" y="240.3" font-family='"Liberation Serif", serif' font-size="7.1" font-weight="normal" fill="#3a3a3a" text-anchor="middle" >800</text>
<line x1="476.8" y1="229.6" x2="476.8" y2="232.2" stroke="#bbb" stroke-width="0.6"/>
<line x1="482.7" y1="229.6" x2="482.7" y2="232.2" stroke="#bbb" stroke-width="0.6"/>
<text x="482.7" y="240.3" font-family='"Liberation Serif", serif' font-size="7.1" font-weight="normal" fill="#3a3a3a" text-anchor="middle" >912 aa</text>
<text x="9.2" y="258.8" font-family='"Liberation Sans", sans-serif' font-size="8.8" font-weight="bold" fill="#111" text-anchor="start" textLength="85.8" lengthAdjust="spacingAndGlyphs" >Variant classification</text>
<circle cx="110.7" cy="255.3" r="2.0" fill="#E6D54A" stroke="#6E6420" stroke-width="0.8"/>
<text x="117" y="258.8" font-family='"Liberation Sans", sans-serif' font-size="8.6" font-weight="normal" fill="#222" text-anchor="start" textLength="64.2" lengthAdjust="spacingAndGlyphs" >Missense (1076)</text>
<circle cx="192.3" cy="255.3" r="2.0" fill="#A01C1C" stroke="#5A1010" stroke-width="0.8"/>
<text x="198.3" y="258.8" font-family='"Liberation Sans", sans-serif' font-size="8.6" font-weight="normal" fill="#222" text-anchor="start" textLength="63" lengthAdjust="spacingAndGlyphs" >Truncating (628)</text>
<circle cx="272.7" cy="255.4" r="2.0" fill="#222" stroke="#111" stroke-width="0.8"/>
<text x="279.2" y="258.8" font-family='"Liberation Sans", sans-serif' font-size="8.6" font-weight="normal" fill="#222" text-anchor="start" textLength="46.6" lengthAdjust="spacingAndGlyphs" >Inframe (42)</text>
<rect x="18.7" y="286.7" width="477.5" height="205.4" fill="none" stroke="#222" stroke-width="1.3"/>
<text x="45.2" y="306.5" font-family='"Liberation Sans", sans-serif' font-size="11.2" font-weight="bold" fill="#111" text-anchor="start" textLength="317.5" lengthAdjust="spacingAndGlyphs" stroke="#111" stroke-width="0.45">1B. Domain based survival outcomes of non-R882 mutations</text>
<line x1="48.8" y1="342.8" x2="48.8" y2="463.3" stroke="#6a6a6a" stroke-width="1.2"/>
<line x1="48.199999999999996" y1="463.3" x2="170.8" y2="463.3" stroke="#6a6a6a" stroke-width="1.2"/>
<text x="42.6" y="350.9" font-family='"Liberation Sans", sans-serif' font-size="5.8" font-weight="bold" fill="#1a1a1a" text-anchor="middle" stroke="#1a1a1a" stroke-width="0.4">1.0</text>
<text x="42.6" y="376.5" font-family='"Liberation Sans", sans-serif' font-size="5.8" font-weight="bold" fill="#1a1a1a" text-anchor="middle" stroke="#1a1a1a" stroke-width="0.4">0.8</text>
<text x="42.6" y="402.1" font-family='"Liberation Sans", sans-serif' font-size="5.8" font-weight="bold" fill="#1a1a1a" text-anchor="middle" stroke="#1a1a1a" stroke-width="0.4">0.6</text>
<text x="42.6" y="427.7" font-family='"Liberation Sans", sans-serif' font-size="5.8" font-weight="bold" fill="#1a1a1a" text-anchor="middle" stroke="#1a1a1a" stroke-width="0.4">0.4</text>
<text x="42.6" y="453.3" font-family='"Liberation Sans", sans-serif' font-size="5.8" font-weight="bold" fill="#1a1a1a" text-anchor="middle" stroke="#1a1a1a" stroke-width="0.4">0.2</text>
<text x="54.4" y="469.3" font-family='"Liberation Sans", sans-serif' font-size="5.8" font-weight="bold" fill="#1a1a1a" text-anchor="middle" stroke="#1a1a1a" stroke-width="0.4">0</text>
<text x="72.4" y="469.3" font-family='"Liberation Sans", sans-serif' font-size="5.8" font-weight="bold" fill="#1a1a1a" text-anchor="middle" stroke="#1a1a1a" stroke-width="0.4">20</text>
<text x="90.4" y="469.3" font-family='"Liberation Sans", sans-serif' font-size="5.8" font-weight="bold" fill="#1a1a1a" text-anchor="middle" stroke="#1a1a1a" stroke-width="0.4">40</text>
<text x="108.4" y="469.3" font-family='"Liberation Sans", sans-serif' font-size="5.8" font-weight="bold" fill="#1a1a1a" text-anchor="middle" stroke="#1a1a1a" stroke-width="0.4">60</text>
<text x="126.4" y="469.3" font-family='"Liberation Sans", sans-serif' font-size="5.8" font-weight="bold" fill="#1a1a1a" text-anchor="middle" stroke="#1a1a1a" stroke-width="0.4">80</text>
<text x="144.4" y="469.3" font-family='"Liberation Sans", sans-serif' font-size="5.8" font-weight="bold" fill="#1a1a1a" text-anchor="middle" stroke="#1a1a1a" stroke-width="0.4">100</text>
<text x="162.4" y="469.3" font-family='"Liberation Sans", sans-serif' font-size="5.8" font-weight="bold" fill="#1a1a1a" text-anchor="middle" stroke="#1a1a1a" stroke-width="0.4">120</text>
<text x="64.2" y="339.7" font-family='"Liberation Sans", sans-serif' font-size="7.6" font-weight="bold" fill="#1a1a1a" text-anchor="start" textLength="92.3" lengthAdjust="spacingAndGlyphs" stroke="#111" stroke-width="0.4">pAML - NTD vs non NTD</text>
<text x="57.5" y="479.0" font-family='"Liberation Sans", sans-serif' font-size="7.4" font-weight="bold" fill="#111" text-anchor="start" textLength="104.3" lengthAdjust="spacingAndGlyphs" stroke="#111" stroke-width="0.4">Follow up time (in months)</text>
<text transform="translate(33.8,441.8) rotate(-90)" font-family='"Liberation Sans", sans-serif' font-size="7.2" font-weight="bold" fill="#111" stroke="#111" stroke-width="0.4" textLength="77.2" lengthAdjust="spacingAndGlyphs">Survival Probability</text>
<path d="M54.3,348.9 L54.6,362.0 L55.0,378.0 L56.4,378.0 L56.6,383.0 L58.9,383.0 L59.2,388.0 L59.7,388.0 L60.6,393.0 L61.3,421.4 L62.6,421.4 L63.0,431.0 L66.3,431.0 L66.8,443.0 L73.8,443.0 L74.2,448.6 L82.4,448.6 L82.8,457.4 L139.5,457.4" fill="none" stroke="#E06060" stroke-width="1.05" stroke-linejoin="round"/>
<path d="M54.3,348.9 L55.1,357.8 L56.4,365.4 L58.9,373.1 L61.5,382.0 L62.7,389.6 L64.3,398.0 L66.6,407.0 L69.2,415.2 L73.1,423.2 L77.0,428.1 L79.4,428.9 L85.6,432.8 L93.4,435.9 L100.0,438.3 L103.7,439.0 L111.3,439.0 L116.2,440.6 L122.9,442.9 L127.7,443.3 L133.5,444.2 L154.6,444.2 L155.0,450.6 L165.5,450.6" fill="none" stroke="#3232CA" stroke-width="1.3" stroke-linejoin="round"/>
<line x1="66.0" y1="403.7" x2="66.0" y2="405.7" stroke="#3232CA" stroke-width="0.6"/>
<line x1="68.4" y1="411.7" x2="68.4" y2="413.7" stroke="#3232CA" stroke-width="0.6"/>
<line x1="70.8" y1="417.5" x2="70.8" y2="419.5" stroke="#3232CA" stroke-width="0.6"/>
<line x1="73.2" y1="422.3" x2="73.2" y2="424.3" stroke="#3232CA" stroke-width="0.6"/>
<line x1="75.6" y1="425.3" x2="75.6" y2="427.3" stroke="#3232CA" stroke-width="0.6"/>
<line x1="78.0" y1="427.4" x2="78.0" y2="429.4" stroke="#3232CA" stroke-width="0.6"/>
<line x1="80.4" y1="428.5" x2="80.4" y2="430.5" stroke="#3232CA" stroke-width="0.6"/>
<line x1="82.8" y1="430.0" x2="82.8" y2="432.0" stroke="#3232CA" stroke-width="0.6"/>
<line x1="85.2" y1="431.5" x2="85.2" y2="433.5" stroke="#3232CA" stroke-width="0.6"/>
<line x1="87.6" y1="432.6" x2="87.6" y2="434.6" stroke="#3232CA" stroke-width="0.6"/>
<line x1="90.0" y1="433.5" x2="90.0" y2="435.5" stroke="#3232CA" stroke-width="0.6"/>
<line x1="92.4" y1="434.5" x2="92.4" y2="436.5" stroke="#3232CA" stroke-width="0.6"/>
<line x1="94.8" y1="435.4" x2="94.8" y2="437.4" stroke="#3232CA" stroke-width="0.6"/>
<line x1="97.2" y1="436.3" x2="97.2" y2="438.3" stroke="#3232CA" stroke-width="0.6"/>
<line x1="99.6" y1="437.2" x2="99.6" y2="439.2" stroke="#3232CA" stroke-width="0.6"/>
<line x1="102.0" y1="437.7" x2="102.0" y2="439.7" stroke="#3232CA" stroke-width="0.6"/>
<line x1="104.4" y1="438.0" x2="104.4" y2="440.0" stroke="#3232CA" stroke-width="0.6"/>
<line x1="106.8" y1="438.0" x2="106.8" y2="440.0" stroke="#3232CA" stroke-width="0.6"/>
<line x1="109.2" y1="438.0" x2="109.2" y2="440.0" stroke="#3232CA" stroke-width="0.6"/>
<line x1="111.6" y1="438.1" x2="111.6" y2="440.1" stroke="#3232CA" stroke-width="0.6"/>
<line x1="114.0" y1="438.9" x2="114.0" y2="440.9" stroke="#3232CA" stroke-width="0.6"/>
<line x1="116.4" y1="439.7" x2="116.4" y2="441.7" stroke="#3232CA" stroke-width="0.6"/>
<line x1="118.8" y1="440.5" x2="118.8" y2="442.5" stroke="#3232CA" stroke-width="0.6"/>
<line x1="121.2" y1="441.3" x2="121.2" y2="443.3" stroke="#3232CA" stroke-width="0.6"/>
<line x1="123.6" y1="442.0" x2="123.6" y2="444.0" stroke="#3232CA" stroke-width="0.6"/>
<line x1="126.0" y1="442.2" x2="126.0" y2="444.2" stroke="#3232CA" stroke-width="0.6"/>
<line x1="128.4" y1="442.4" x2="128.4" y2="444.4" stroke="#3232CA" stroke-width="0.6"/>
<line x1="130.8" y1="442.8" x2="130.8" y2="444.8" stroke="#3232CA" stroke-width="0.6"/>
<line x1="133.2" y1="443.2" x2="133.2" y2="445.2" stroke="#3232CA" stroke-width="0.6"/>
<line x1="135.6" y1="443.2" x2="135.6" y2="445.2" stroke="#3232CA" stroke-width="0.6"/>
<line x1="138.0" y1="443.2" x2="138.0" y2="445.2" stroke="#3232CA" stroke-width="0.6"/>
<line x1="140.4" y1="443.2" x2="140.4" y2="445.2" stroke="#3232CA" stroke-width="0.6"/>
<line x1="142.8" y1="443.2" x2="142.8" y2="445.2" stroke="#3232CA" stroke-width="0.6"/>
<line x1="145.2" y1="443.2" x2="145.2" y2="445.2" stroke="#3232CA" stroke-width="0.6"/>
<line x1="147.6" y1="443.2" x2="147.6" y2="445.2" stroke="#3232CA" stroke-width="0.6"/>
<line x1="150.0" y1="443.2" x2="150.0" y2="445.2" stroke="#3232CA" stroke-width="0.6"/>
<line x1="152.4" y1="443.2" x2="152.4" y2="445.2" stroke="#3232CA" stroke-width="0.6"/>
<line x1="158.0" y1="449.6" x2="158.0" y2="451.6" stroke="#3232CA" stroke-width="0.6"/>
<line x1="161.0" y1="449.6" x2="161.0" y2="451.6" stroke="#3232CA" stroke-width="0.6"/>
<line x1="164.0" y1="449.6" x2="164.0" y2="451.6" stroke="#3232CA" stroke-width="0.6"/>
<rect x="117.5" y="345.0" width="50" height="21.5" fill="#fff" stroke="#e6e6e6" stroke-width="0.6" rx="1"/>
<line x1="120.8" y1="350.4" x2="132.5" y2="350.4" stroke="#E06060" stroke-width="1.0" stroke-opacity="0.75"/>
<text x="138.0" y="352.8" font-family='"Liberation Sans", sans-serif' font-size="6.8" font-weight="bold" fill="#1a1a1a" text-anchor="start" textLength="12.8" lengthAdjust="spacingAndGlyphs" stroke="#1a1a1a" stroke-width="0.35">NTD</text>
<line x1="120.8" y1="359.1" x2="132.5" y2="359.1" stroke="#3232CA" stroke-width="1.0" stroke-opacity="0.75"/>
<text x="138.0" y="361.5" font-family='"Liberation Sans", sans-serif' font-size="6.8" font-weight="bold" fill="#1a1a1a" text-anchor="start" textLength="28.0" lengthAdjust="spacingAndGlyphs" stroke="#1a1a1a" stroke-width="0.35">non NTD</text>
<text x="117.8" y="377.2" font-family='"Liberation Sans", sans-serif' font-size="6.1" font-weight="bold" fill="#111" text-anchor="start" textLength="39.9" lengthAdjust="spacingAndGlyphs" stroke="#111" stroke-width="0.35">8.2 vs 15 mo.</text>
<text x="117.8" y="385.8" font-family='"Liberation Sans", sans-serif' font-size="6.1" font-weight="bold" fill="#111" text-anchor="start" textLength="22.6" lengthAdjust="spacingAndGlyphs" stroke="#111" stroke-width="0.35">p - 0.02</text>
<line x1="202.5" y1="342.5" x2="202.5" y2="462.5" stroke="#6a6a6a" stroke-width="1.2"/>
<line x1="201.9" y1="462.5" x2="319.4" y2="462.5" stroke="#6a6a6a" stroke-width="1.2"/>
<text x="196.6" y="350.4" font-family='"Liberation Sans", sans-serif' font-size="5.8" font-weight="bold" fill="#1a1a1a" text-anchor="middle" stroke="#1a1a1a" stroke-width="0.4">1.0</text>
<text x="196.6" y="372.3" font-family='"Liberation Sans", sans-serif' font-size="5.8" font-weight="bold" fill="#1a1a1a" text-anchor="middle" stroke="#1a1a1a" stroke-width="0.4">0.8</text>
<text x="196.6" y="394.2" font-family='"Liberation Sans", sans-serif' font-size="5.8" font-weight="bold" fill="#1a1a1a" text-anchor="middle" stroke="#1a1a1a" stroke-width="0.4">0.6</text>
<text x="196.6" y="416.0" font-family='"Liberation Sans", sans-serif' font-size="5.8" font-weight="bold" fill="#1a1a1a" text-anchor="middle" stroke="#1a1a1a" stroke-width="0.4">0.4</text>
<text x="196.6" y="437.9" font-family='"Liberation Sans", sans-serif' font-size="5.8" font-weight="bold" fill="#1a1a1a" text-anchor="middle" stroke="#1a1a1a" stroke-width="0.4">0.2</text>
<text x="196.6" y="459.8" font-family='"Liberation Sans", sans-serif' font-size="5.8" font-weight="bold" fill="#1a1a1a" text-anchor="middle" stroke="#1a1a1a" stroke-width="0.4">0.0</text>
<text x="207.8" y="468.8" font-family='"Liberation Sans", sans-serif' font-size="5.8" font-weight="bold" fill="#1a1a1a" text-anchor="middle" stroke="#1a1a1a" stroke-width="0.4">0</text>
<text x="240.6" y="468.8" font-family='"Liberation Sans", sans-serif' font-size="5.8" font-weight="bold" fill="#1a1a1a" text-anchor="middle" stroke="#1a1a1a" stroke-width="0.4">20</text>
<text x="273.4" y="468.8" font-family='"Liberation Sans", sans-serif' font-size="5.8" font-weight="bold" fill="#1a1a1a" text-anchor="middle" stroke="#1a1a1a" stroke-width="0.4">40</text>
<text x="306.2" y="468.8" font-family='"Liberation Sans", sans-serif' font-size="5.8" font-weight="bold" fill="#1a1a1a" text-anchor="middle" stroke="#1a1a1a" stroke-width="0.4">60</text>
<text x="209.3" y="339.6" font-family='"Liberation Sans", sans-serif' font-size="7.6" font-weight="bold" fill="#1a1a1a" text-anchor="start" textLength="105" lengthAdjust="spacingAndGlyphs" stroke="#111" stroke-width="0.4">sAML - PWWP vs non PWWP</text>
<text x="210.9" y="479.4" font-family='"Liberation Sans", sans-serif' font-size="7.4" font-weight="bold" fill="#111" text-anchor="start" textLength="100" lengthAdjust="spacingAndGlyphs" stroke="#111" stroke-width="0.4">Follow up time (in months)</text>
<text transform="translate(187.9,442.2) rotate(-90)" font-family='"Liberation Sans", sans-serif' font-size="7.2" font-weight="bold" fill="#111" stroke="#111" stroke-width="0.4" textLength="78.2" lengthAdjust="spacingAndGlyphs">Survival Probability</text>
<path d="M207.8,348.5 L209.0,355.0 L209.8,362.0 L210.2,369.3 L211.7,370.5 L212.2,385.1 L214.1,386.3 L215.0,387.0 L215.9,402.2 L219.0,402.2 L219.5,405.9 L221.5,405.9 L222.4,424.1 L223.7,424.1 L224.4,432.7 L226.9,432.7 L228.5,440.8 L245.2,440.8 L245.8,449.6 L249.0,449.6 L249.4,457.7" fill="none" stroke="#E06060" stroke-width="1.05" stroke-linejoin="round"/>
<path d="M207.8,348.5 L210.2,359.5 L212.2,364.4 L213.4,370.5 L215.9,376.6 L218.3,388.8 L220.7,397.3 L223.2,401.0 L225.0,403.8 L228.8,413.5 L231.7,419.2 L233.7,426.0 L234.6,426.9 L239.4,427.3 L242.3,428.8 L244.2,430.8 L248.1,431.7 L251.9,433.7 L255.8,436.5 L258.7,438.5 L260.6,440.0 L261.5,443.8 L271.2,443.8 L274.0,445.2 L279.8,446.2 L286.5,446.2 L287.5,449.6 L314.4,449.6" fill="none" stroke="#3232CA" stroke-width="1.05" stroke-linejoin="round"/>
<line x1="236.0" y1="426.0" x2="236.0" y2="428.0" stroke="#3232CA" stroke-width="0.6"/>
<line x1="239.0" y1="426.3" x2="239.0" y2="428.3" stroke="#3232CA" stroke-width="0.6"/>
<line x1="242.0" y1="427.6" x2="242.0" y2="429.6" stroke="#3232CA" stroke-width="0.6"/>
<line x1="245.0" y1="430.0" x2="245.0" y2="432.0" stroke="#3232CA" stroke-width="0.6"/>
<line x1="248.0" y1="430.7" x2="248.0" y2="432.7" stroke="#3232CA" stroke-width="0.6"/>
<line x1="251.0" y1="432.2" x2="251.0" y2="434.2" stroke="#3232CA" stroke-width="0.6"/>
<line x1="254.0" y1="434.2" x2="254.0" y2="436.2" stroke="#3232CA" stroke-width="0.6"/>
<line x1="257.0" y1="436.3" x2="257.0" y2="438.3" stroke="#3232CA" stroke-width="0.6"/>
<line x1="260.0" y1="438.5" x2="260.0" y2="440.5" stroke="#3232CA" stroke-width="0.6"/>
<line x1="264.0" y1="442.8" x2="264.0" y2="444.8" stroke="#3232CA" stroke-width="0.6"/>
<line x1="267.2" y1="442.8" x2="267.2" y2="444.8" stroke="#3232CA" stroke-width="0.6"/>
<line x1="270.4" y1="442.8" x2="270.4" y2="444.8" stroke="#3232CA" stroke-width="0.6"/>
<line x1="273.6" y1="444.0" x2="273.6" y2="446.0" stroke="#3232CA" stroke-width="0.6"/>
<line x1="276.8" y1="444.7" x2="276.8" y2="446.7" stroke="#3232CA" stroke-width="0.6"/>
<line x1="280.0" y1="445.2" x2="280.0" y2="447.2" stroke="#3232CA" stroke-width="0.6"/>
<line x1="283.2" y1="445.2" x2="283.2" y2="447.2" stroke="#3232CA" stroke-width="0.6"/>
<line x1="286.4" y1="445.2" x2="286.4" y2="447.2" stroke="#3232CA" stroke-width="0.6"/>
<line x1="291.0" y1="448.6" x2="291.0" y2="450.6" stroke="#3232CA" stroke-width="0.6"/>
<line x1="294.5" y1="448.6" x2="294.5" y2="450.6" stroke="#3232CA" stroke-width="0.6"/>
<line x1="298.0" y1="448.6" x2="298.0" y2="450.6" stroke="#3232CA" stroke-width="0.6"/>
<line x1="301.5" y1="448.6" x2="301.5" y2="450.6" stroke="#3232CA" stroke-width="0.6"/>
<line x1="305.0" y1="448.6" x2="305.0" y2="450.6" stroke="#3232CA" stroke-width="0.6"/>
<line x1="308.5" y1="448.6" x2="308.5" y2="450.6" stroke="#3232CA" stroke-width="0.6"/>
<line x1="312.0" y1="448.6" x2="312.0" y2="450.6" stroke="#3232CA" stroke-width="0.6"/>
<line x1="264" y1="350.8" x2="275" y2="350.8" stroke="#E06060" stroke-width="1.0" stroke-opacity="0.75"/>
<text x="280.8" y="353.2" font-family='"Liberation Sans", sans-serif' font-size="6.8" font-weight="bold" fill="#1a1a1a" text-anchor="start" textLength="20.2" lengthAdjust="spacingAndGlyphs" stroke="#1a1a1a" stroke-width="0.35">PWWP</text>
<line x1="264" y1="359.1" x2="275" y2="359.1" stroke="#3232CA" stroke-width="1.0" stroke-opacity="0.75"/>
<text x="280.8" y="361.5" font-family='"Liberation Sans", sans-serif' font-size="6.8" font-weight="bold" fill="#1a1a1a" text-anchor="start" textLength="33.4" lengthAdjust="spacingAndGlyphs" stroke="#1a1a1a" stroke-width="0.35">non PWWP</text>
<text x="266.6" y="377.2" font-family='"Liberation Sans", sans-serif' font-size="6.1" font-weight="bold" fill="#111" text-anchor="start" textLength="45.3" lengthAdjust="spacingAndGlyphs" stroke="#111" stroke-width="0.35">5.2 vs 10.6 mo.</text>
<text x="266.6" y="385.3" font-family='"Liberation Sans", sans-serif' font-size="6.1" font-weight="bold" fill="#111" text-anchor="start" textLength="29.2" lengthAdjust="spacingAndGlyphs" stroke="#111" stroke-width="0.35">p - 0.0012</text>
<line x1="358.8" y1="340.8" x2="358.8" y2="460" stroke="#6a6a6a" stroke-width="1.2"/>
<line x1="358.2" y1="460" x2="486.6" y2="460" stroke="#6a6a6a" stroke-width="1.2"/>
<text x="352.6" y="348.9" font-family='"Liberation Sans", sans-serif' font-size="5.8" font-weight="bold" fill="#1a1a1a" text-anchor="middle" stroke="#1a1a1a" stroke-width="0.4">1.0</text>
<text x="352.6" y="370.6" font-family='"Liberation Sans", sans-serif' font-size="5.8" font-weight="bold" fill="#1a1a1a" text-anchor="middle" stroke="#1a1a1a" stroke-width="0.4">0.8</text>
<text x="352.6" y="392.4" font-family='"Liberation Sans", sans-serif' font-size="5.8" font-weight="bold" fill="#1a1a1a" text-anchor="middle" stroke="#1a1a1a" stroke-width="0.4">0.6</text>
<text x="352.6" y="414.1" font-family='"Liberation Sans", sans-serif' font-size="5.8" font-weight="bold" fill="#1a1a1a" text-anchor="middle" stroke="#1a1a1a" stroke-width="0.4">0.4</text>
<text x="352.6" y="435.9" font-family='"Liberation Sans", sans-serif' font-size="5.8" font-weight="bold" fill="#1a1a1a" text-anchor="middle" stroke="#1a1a1a" stroke-width="0.4">0.2</text>
<text x="352.6" y="457.6" font-family='"Liberation Sans", sans-serif' font-size="5.8" font-weight="bold" fill="#1a1a1a" text-anchor="middle" stroke="#1a1a1a" stroke-width="0.4">0.0</text>
<text x="364.0" y="466.6" font-family='"Liberation Sans", sans-serif' font-size="5.8" font-weight="bold" fill="#1a1a1a" text-anchor="middle" stroke="#1a1a1a" stroke-width="0.4">0</text>
<text x="399.9" y="466.6" font-family='"Liberation Sans", sans-serif' font-size="5.8" font-weight="bold" fill="#1a1a1a" text-anchor="middle" stroke="#1a1a1a" stroke-width="0.4">20</text>
<text x="435.8" y="466.6" font-family='"Liberation Sans", sans-serif' font-size="5.8" font-weight="bold" fill="#1a1a1a" text-anchor="middle" stroke="#1a1a1a" stroke-width="0.4">40</text>
<text x="471.7" y="466.6" font-family='"Liberation Sans", sans-serif' font-size="5.8" font-weight="bold" fill="#1a1a1a" text-anchor="middle" stroke="#1a1a1a" stroke-width="0.4">60</text>
<text x="366.4" y="337.7" font-family='"Liberation Sans", sans-serif' font-size="7.6" font-weight="bold" fill="#1a1a1a" text-anchor="start" textLength="112.4" lengthAdjust="spacingAndGlyphs" stroke="#111" stroke-width="0.4">sAML - MTase vs non MTase</text>
<text x="367.8" y="476.6" font-family='"Liberation Sans", sans-serif' font-size="8.0" font-weight="bold" fill="#111" text-anchor="start" textLength="110.0" lengthAdjust="spacingAndGlyphs" stroke="#111" stroke-width="0.4">Follow up time (in months)</text>
<text transform="translate(343.7,439.5) rotate(-90)" font-family='"Liberation Sans", sans-serif' font-size="7.2" font-weight="bold" fill="#111" stroke="#111" stroke-width="0.4" textLength="78.5" lengthAdjust="spacingAndGlyphs">Survival Probability</text>
<path d="M364.5,346.2 L366.2,355.6 L368.6,363.4 L370.9,371.2 L372.5,375.5 L374.8,385.3 L378.0,390.0 L381.0,395.0 L384.2,401.3 L386.5,405.5 L389.5,409.8 L391.5,413.0 L393.8,416.2 L400.1,417.2 L403.3,421.4 L407.5,422.9 L412.8,424.6 L416.0,428.4 L419.1,431.4 L421.2,433.1 L423.4,438.4 L435.0,438.4 L437.1,440.5 L442.4,440.5 L443.5,442.4 L481.5,442.4" fill="none" stroke="#4A9E44" stroke-width="1.05" stroke-linejoin="round"/>
<line x1="398.0" y1="415.9" x2="398.0" y2="417.9" stroke="#4A9E44" stroke-width="0.6"/>
<line x1="402.2" y1="419.0" x2="402.2" y2="421.0" stroke="#4A9E44" stroke-width="0.6"/>
<line x1="406.4" y1="421.5" x2="406.4" y2="423.5" stroke="#4A9E44" stroke-width="0.6"/>
<line x1="410.6" y1="422.9" x2="410.6" y2="424.9" stroke="#4A9E44" stroke-width="0.6"/>
<line x1="414.8" y1="426.0" x2="414.8" y2="428.0" stroke="#4A9E44" stroke-width="0.6"/>
<line x1="419.0" y1="430.3" x2="419.0" y2="432.3" stroke="#4A9E44" stroke-width="0.6"/>
<line x1="423.2" y1="436.9" x2="423.2" y2="438.9" stroke="#4A9E44" stroke-width="0.6"/>
<line x1="427.4" y1="437.4" x2="427.4" y2="439.4" stroke="#4A9E44" stroke-width="0.6"/>
<line x1="431.6" y1="437.4" x2="431.6" y2="439.4" stroke="#4A9E44" stroke-width="0.6"/>
<line x1="435.8" y1="438.2" x2="435.8" y2="440.2" stroke="#4A9E44" stroke-width="0.6"/>
<line x1="440.0" y1="439.5" x2="440.0" y2="441.5" stroke="#4A9E44" stroke-width="0.6"/>
<line x1="447.0" y1="441.4" x2="447.0" y2="443.4" stroke="#4A9E44" stroke-width="0.6"/>
<line x1="451.6" y1="441.4" x2="451.6" y2="443.4" stroke="#4A9E44" stroke-width="0.6"/>
<line x1="456.2" y1="441.4" x2="456.2" y2="443.4" stroke="#4A9E44" stroke-width="0.6"/>
<line x1="460.8" y1="441.4" x2="460.8" y2="443.4" stroke="#4A9E44" stroke-width="0.6"/>
<line x1="465.4" y1="441.4" x2="465.4" y2="443.4" stroke="#4A9E44" stroke-width="0.6"/>
<line x1="470.0" y1="441.4" x2="470.0" y2="443.4" stroke="#4A9E44" stroke-width="0.6"/>
<line x1="474.6" y1="441.4" x2="474.6" y2="443.4" stroke="#4A9E44" stroke-width="0.6"/>
<line x1="479.2" y1="441.4" x2="479.2" y2="443.4" stroke="#4A9E44" stroke-width="0.6"/>
<path d="M364.5,346.2 L367.0,358.8 L370.2,368.1 L372.5,375.2 L374.8,385.3 L377.2,390.0 L378.8,397.8 L380.0,402.4 L381.9,407.2 L384.2,414.0 L388.5,426.7 L391.6,434.1 L393.8,439.8 L406.4,439.8 L408.6,443.7 L410.7,448.9 L451.9,448.9 L451.9,455.3" fill="none" stroke="#3232CA" stroke-width="1.05" stroke-linejoin="round"/>
<line x1="397.0" y1="438.8" x2="397.0" y2="440.8" stroke="#3232CA" stroke-width="0.6"/>
<line x1="400.3" y1="438.8" x2="400.3" y2="440.8" stroke="#3232CA" stroke-width="0.6"/>
<line x1="403.6" y1="438.8" x2="403.6" y2="440.8" stroke="#3232CA" stroke-width="0.6"/>
<rect x="424" y="343.8" width="59.4" height="17.2" fill="#fff" stroke="#e6e6e6" stroke-width="0.6" rx="1"/>
<line x1="427.2" y1="348.3" x2="439.7" y2="348.3" stroke="#4A9E44" stroke-width="1.0" stroke-opacity="0.75"/>
<text x="445.6" y="350.7" font-family='"Liberation Sans", sans-serif' font-size="6.8" font-weight="bold" fill="#1a1a1a" text-anchor="start" textLength="20.2" lengthAdjust="spacingAndGlyphs" stroke="#1a1a1a" stroke-width="0.35">MTase</text>
<line x1="427.2" y1="356.8" x2="439.7" y2="356.8" stroke="#3232CA" stroke-width="1.0" stroke-opacity="0.75"/>
<text x="445.6" y="359.2" font-family='"Liberation Sans", sans-serif' font-size="6.8" font-weight="bold" fill="#1a1a1a" text-anchor="start" textLength="35.6" lengthAdjust="spacingAndGlyphs" stroke="#1a1a1a" stroke-width="0.35">non MTase</text>
<text x="432.7" y="374.6" font-family='"Liberation Sans", sans-serif' font-size="6.1" font-weight="bold" fill="#111" text-anchor="start" textLength="34.1" lengthAdjust="spacingAndGlyphs" stroke="#111" stroke-width="0.35">11 vs 8 mo.</text>
<text x="432.7" y="382.7" font-family='"Liberation Sans", sans-serif' font-size="6.1" font-weight="bold" fill="#111" text-anchor="start" textLength="25.7" lengthAdjust="spacingAndGlyphs" stroke="#111" stroke-width="0.35">p - 0.003</text>
</svg></body></html>
